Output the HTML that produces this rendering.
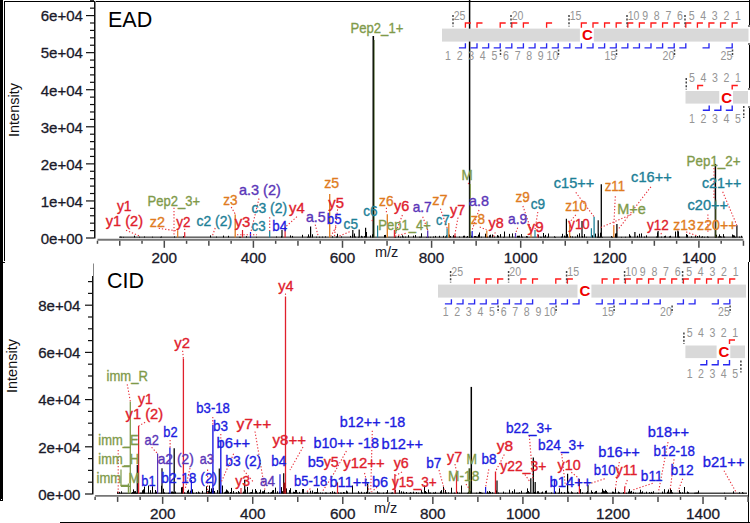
<!DOCTYPE html>
<html><head><meta charset="utf-8"><style>
html,body{margin:0;padding:0;background:#fff;}
svg{display:block;font-family:"Liberation Sans",sans-serif;}
</style></head><body>
<svg width="750" height="523" viewBox="0 0 750 523">
<rect x="0" y="0" width="3" height="501" fill="#000"/>
<rect x="1" y="499" width="1" height="1" fill="#fff"/>
<rect x="4" y="1" width="1" height="260" fill="#000"/>
<rect x="4" y="1" width="746" height="1" fill="#000"/>
<rect x="0" y="262" width="5" height="1" fill="#000"/>
<rect x="749" y="0" width="1" height="25" fill="#000"/>
<rect x="748" y="25.5" width="2" height="1" fill="#000"/>
<rect x="748" y="43.5" width="2" height="1" fill="#000"/>
<rect x="749" y="45" width="1" height="43" fill="#000"/>
<rect x="748" y="88.5" width="2" height="1" fill="#000"/>
<rect x="748" y="106.5" width="2" height="1" fill="#000"/>
<rect x="749" y="108" width="1" height="154" fill="#000"/>
<rect x="748" y="262" width="1" height="261" fill="#000"/>
<rect x="60" y="522" width="690" height="1" fill="#000"/>
<rect x="94" y="1" width="1" height="237.5" fill="#111"/>
<rect x="95" y="1" width="1" height="237.5" fill="#888"/>
<line x1="86" y1="238.0" x2="94" y2="238.0" stroke="#111" stroke-width="1.2"/>
<line x1="90" y1="230.586" x2="94" y2="230.586" stroke="#111" stroke-width="1.2"/>
<line x1="90" y1="223.172" x2="94" y2="223.172" stroke="#111" stroke-width="1.2"/>
<line x1="90" y1="215.758" x2="94" y2="215.758" stroke="#111" stroke-width="1.2"/>
<line x1="90" y1="208.344" x2="94" y2="208.344" stroke="#111" stroke-width="1.2"/>
<line x1="86" y1="200.93" x2="94" y2="200.93" stroke="#111" stroke-width="1.2"/>
<line x1="90" y1="193.516" x2="94" y2="193.516" stroke="#111" stroke-width="1.2"/>
<line x1="90" y1="186.102" x2="94" y2="186.102" stroke="#111" stroke-width="1.2"/>
<line x1="90" y1="178.688" x2="94" y2="178.688" stroke="#111" stroke-width="1.2"/>
<line x1="90" y1="171.274" x2="94" y2="171.274" stroke="#111" stroke-width="1.2"/>
<line x1="86" y1="163.86" x2="94" y2="163.86" stroke="#111" stroke-width="1.2"/>
<line x1="90" y1="156.446" x2="94" y2="156.446" stroke="#111" stroke-width="1.2"/>
<line x1="90" y1="149.03199999999998" x2="94" y2="149.03199999999998" stroke="#111" stroke-width="1.2"/>
<line x1="90" y1="141.618" x2="94" y2="141.618" stroke="#111" stroke-width="1.2"/>
<line x1="90" y1="134.204" x2="94" y2="134.204" stroke="#111" stroke-width="1.2"/>
<line x1="86" y1="126.78999999999999" x2="94" y2="126.78999999999999" stroke="#111" stroke-width="1.2"/>
<line x1="90" y1="119.37599999999999" x2="94" y2="119.37599999999999" stroke="#111" stroke-width="1.2"/>
<line x1="90" y1="111.96199999999999" x2="94" y2="111.96199999999999" stroke="#111" stroke-width="1.2"/>
<line x1="90" y1="104.548" x2="94" y2="104.548" stroke="#111" stroke-width="1.2"/>
<line x1="90" y1="97.13399999999999" x2="94" y2="97.13399999999999" stroke="#111" stroke-width="1.2"/>
<line x1="86" y1="89.72" x2="94" y2="89.72" stroke="#111" stroke-width="1.2"/>
<line x1="90" y1="82.30599999999998" x2="94" y2="82.30599999999998" stroke="#111" stroke-width="1.2"/>
<line x1="90" y1="74.892" x2="94" y2="74.892" stroke="#111" stroke-width="1.2"/>
<line x1="90" y1="67.47799999999998" x2="94" y2="67.47799999999998" stroke="#111" stroke-width="1.2"/>
<line x1="90" y1="60.06399999999999" x2="94" y2="60.06399999999999" stroke="#111" stroke-width="1.2"/>
<line x1="86" y1="52.64999999999998" x2="94" y2="52.64999999999998" stroke="#111" stroke-width="1.2"/>
<line x1="90" y1="45.23599999999999" x2="94" y2="45.23599999999999" stroke="#111" stroke-width="1.2"/>
<line x1="90" y1="37.821999999999974" x2="94" y2="37.821999999999974" stroke="#111" stroke-width="1.2"/>
<line x1="90" y1="30.407999999999987" x2="94" y2="30.407999999999987" stroke="#111" stroke-width="1.2"/>
<line x1="90" y1="22.994" x2="94" y2="22.994" stroke="#111" stroke-width="1.2"/>
<line x1="86" y1="15.579999999999984" x2="94" y2="15.579999999999984" stroke="#111" stroke-width="1.2"/>
<line x1="90" y1="8.165999999999997" x2="94" y2="8.165999999999997" stroke="#111" stroke-width="1.2"/>
<line x1="90" y1="0.7519999999999811" x2="94" y2="0.7519999999999811" stroke="#111" stroke-width="1.2"/>
<text x="83" y="243.8" fill="#1a1a2a" font-size="15.3" textLength="42.3" lengthAdjust="spacingAndGlyphs" text-anchor="end" stroke="#1a1a2a" stroke-width="0.3">0e+00</text>
<text x="83" y="206.73000000000002" fill="#1a1a2a" font-size="15.3" textLength="42.3" lengthAdjust="spacingAndGlyphs" text-anchor="end" stroke="#1a1a2a" stroke-width="0.3">1e+04</text>
<text x="83" y="169.66000000000003" fill="#1a1a2a" font-size="15.3" textLength="42.3" lengthAdjust="spacingAndGlyphs" text-anchor="end" stroke="#1a1a2a" stroke-width="0.3">2e+04</text>
<text x="83" y="132.59" fill="#1a1a2a" font-size="15.3" textLength="42.3" lengthAdjust="spacingAndGlyphs" text-anchor="end" stroke="#1a1a2a" stroke-width="0.3">3e+04</text>
<text x="83" y="95.52" fill="#1a1a2a" font-size="15.3" textLength="42.3" lengthAdjust="spacingAndGlyphs" text-anchor="end" stroke="#1a1a2a" stroke-width="0.3">4e+04</text>
<text x="83" y="58.449999999999974" fill="#1a1a2a" font-size="15.3" textLength="42.3" lengthAdjust="spacingAndGlyphs" text-anchor="end" stroke="#1a1a2a" stroke-width="0.3">5e+04</text>
<text x="83" y="21.379999999999985" fill="#1a1a2a" font-size="15.3" textLength="42.3" lengthAdjust="spacingAndGlyphs" text-anchor="end" stroke="#1a1a2a" stroke-width="0.3">6e+04</text>
<line x1="97.475" y1="239.8" x2="743.45" y2="239.8" stroke="#767676" stroke-width="1.9"/>
<line x1="97.475" y1="240.70000000000002" x2="97.475" y2="243.8" stroke="#4a4a4a" stroke-width="1.5"/>
<line x1="119.75" y1="240.70000000000002" x2="119.75" y2="245.8" stroke="#4a4a4a" stroke-width="1.5"/>
<line x1="142.025" y1="240.70000000000002" x2="142.025" y2="243.8" stroke="#4a4a4a" stroke-width="1.5"/>
<line x1="164.3" y1="240.70000000000002" x2="164.3" y2="247.8" stroke="#4a4a4a" stroke-width="1.5"/>
<line x1="186.575" y1="240.70000000000002" x2="186.575" y2="243.8" stroke="#4a4a4a" stroke-width="1.5"/>
<line x1="208.85000000000002" y1="240.70000000000002" x2="208.85000000000002" y2="245.8" stroke="#4a4a4a" stroke-width="1.5"/>
<line x1="231.125" y1="240.70000000000002" x2="231.125" y2="243.8" stroke="#4a4a4a" stroke-width="1.5"/>
<line x1="253.39999999999998" y1="240.70000000000002" x2="253.39999999999998" y2="247.8" stroke="#4a4a4a" stroke-width="1.5"/>
<line x1="275.675" y1="240.70000000000002" x2="275.675" y2="243.8" stroke="#4a4a4a" stroke-width="1.5"/>
<line x1="297.95" y1="240.70000000000002" x2="297.95" y2="245.8" stroke="#4a4a4a" stroke-width="1.5"/>
<line x1="320.225" y1="240.70000000000002" x2="320.225" y2="243.8" stroke="#4a4a4a" stroke-width="1.5"/>
<line x1="342.5" y1="240.70000000000002" x2="342.5" y2="247.8" stroke="#4a4a4a" stroke-width="1.5"/>
<line x1="364.775" y1="240.70000000000002" x2="364.775" y2="243.8" stroke="#4a4a4a" stroke-width="1.5"/>
<line x1="387.05" y1="240.70000000000002" x2="387.05" y2="245.8" stroke="#4a4a4a" stroke-width="1.5"/>
<line x1="409.325" y1="240.70000000000002" x2="409.325" y2="243.8" stroke="#4a4a4a" stroke-width="1.5"/>
<line x1="431.59999999999997" y1="240.70000000000002" x2="431.59999999999997" y2="247.8" stroke="#4a4a4a" stroke-width="1.5"/>
<line x1="453.875" y1="240.70000000000002" x2="453.875" y2="243.8" stroke="#4a4a4a" stroke-width="1.5"/>
<line x1="476.15" y1="240.70000000000002" x2="476.15" y2="245.8" stroke="#4a4a4a" stroke-width="1.5"/>
<line x1="498.425" y1="240.70000000000002" x2="498.425" y2="243.8" stroke="#4a4a4a" stroke-width="1.5"/>
<line x1="520.7" y1="240.70000000000002" x2="520.7" y2="247.8" stroke="#4a4a4a" stroke-width="1.5"/>
<line x1="542.975" y1="240.70000000000002" x2="542.975" y2="243.8" stroke="#4a4a4a" stroke-width="1.5"/>
<line x1="565.25" y1="240.70000000000002" x2="565.25" y2="245.8" stroke="#4a4a4a" stroke-width="1.5"/>
<line x1="587.5250000000001" y1="240.70000000000002" x2="587.5250000000001" y2="243.8" stroke="#4a4a4a" stroke-width="1.5"/>
<line x1="609.8000000000001" y1="240.70000000000002" x2="609.8000000000001" y2="247.8" stroke="#4a4a4a" stroke-width="1.5"/>
<line x1="632.075" y1="240.70000000000002" x2="632.075" y2="243.8" stroke="#4a4a4a" stroke-width="1.5"/>
<line x1="654.35" y1="240.70000000000002" x2="654.35" y2="245.8" stroke="#4a4a4a" stroke-width="1.5"/>
<line x1="676.625" y1="240.70000000000002" x2="676.625" y2="243.8" stroke="#4a4a4a" stroke-width="1.5"/>
<line x1="698.9000000000001" y1="240.70000000000002" x2="698.9000000000001" y2="247.8" stroke="#4a4a4a" stroke-width="1.5"/>
<line x1="721.1750000000001" y1="240.70000000000002" x2="721.1750000000001" y2="243.8" stroke="#4a4a4a" stroke-width="1.5"/>
<line x1="743.45" y1="240.70000000000002" x2="743.45" y2="245.8" stroke="#4a4a4a" stroke-width="1.5"/>
<text x="164.3" y="263" fill="#1a1a2a" font-size="15.3" text-anchor="middle" stroke="#1a1a2a" stroke-width="0.3">200</text>
<text x="253.39999999999998" y="263" fill="#1a1a2a" font-size="15.3" text-anchor="middle" stroke="#1a1a2a" stroke-width="0.3">400</text>
<text x="342.5" y="263" fill="#1a1a2a" font-size="15.3" text-anchor="middle" stroke="#1a1a2a" stroke-width="0.3">600</text>
<text x="431.59999999999997" y="263" fill="#1a1a2a" font-size="15.3" text-anchor="middle" stroke="#1a1a2a" stroke-width="0.3">800</text>
<text x="520.7" y="263" fill="#1a1a2a" font-size="15.3" text-anchor="middle" stroke="#1a1a2a" stroke-width="0.3">1000</text>
<text x="609.8000000000001" y="263" fill="#1a1a2a" font-size="15.3" text-anchor="middle" stroke="#1a1a2a" stroke-width="0.3">1200</text>
<text x="698.9000000000001" y="263" fill="#1a1a2a" font-size="15.3" text-anchor="middle" stroke="#1a1a2a" stroke-width="0.3">1400</text>
<text x="375" y="257" fill="#1a1a2a" font-size="14.5">m/z</text>
<text x="108" y="27.2" fill="#000" font-size="21.5">EAD</text>
<text x="19.3" y="137" fill="#111" font-size="14.5" transform="rotate(-90 19.3 137)">Intensity</text>
<rect x="92" y="276" width="1" height="218.5" fill="#111"/>
<rect x="93" y="263.5" width="1" height="231" fill="#888"/>
<line x1="85" y1="494.0" x2="92" y2="494.0" stroke="#111" stroke-width="1.2"/>
<line x1="88" y1="482.2" x2="92" y2="482.2" stroke="#111" stroke-width="1.2"/>
<line x1="88" y1="470.4" x2="92" y2="470.4" stroke="#111" stroke-width="1.2"/>
<line x1="88" y1="458.6" x2="92" y2="458.6" stroke="#111" stroke-width="1.2"/>
<line x1="85" y1="446.8" x2="92" y2="446.8" stroke="#111" stroke-width="1.2"/>
<line x1="88" y1="435.0" x2="92" y2="435.0" stroke="#111" stroke-width="1.2"/>
<line x1="88" y1="423.2" x2="92" y2="423.2" stroke="#111" stroke-width="1.2"/>
<line x1="88" y1="411.4" x2="92" y2="411.4" stroke="#111" stroke-width="1.2"/>
<line x1="85" y1="399.6" x2="92" y2="399.6" stroke="#111" stroke-width="1.2"/>
<line x1="88" y1="387.8" x2="92" y2="387.8" stroke="#111" stroke-width="1.2"/>
<line x1="88" y1="376.0" x2="92" y2="376.0" stroke="#111" stroke-width="1.2"/>
<line x1="88" y1="364.2" x2="92" y2="364.2" stroke="#111" stroke-width="1.2"/>
<line x1="85" y1="352.4" x2="92" y2="352.4" stroke="#111" stroke-width="1.2"/>
<line x1="88" y1="340.6" x2="92" y2="340.6" stroke="#111" stroke-width="1.2"/>
<line x1="88" y1="328.79999999999995" x2="92" y2="328.79999999999995" stroke="#111" stroke-width="1.2"/>
<line x1="88" y1="317.0" x2="92" y2="317.0" stroke="#111" stroke-width="1.2"/>
<line x1="85" y1="305.2" x2="92" y2="305.2" stroke="#111" stroke-width="1.2"/>
<line x1="88" y1="293.4" x2="92" y2="293.4" stroke="#111" stroke-width="1.2"/>
<line x1="88" y1="281.6" x2="92" y2="281.6" stroke="#111" stroke-width="1.2"/>
<text x="80.5" y="499.8" fill="#1a1a2a" font-size="15.3" textLength="42.3" lengthAdjust="spacingAndGlyphs" text-anchor="end" stroke="#1a1a2a" stroke-width="0.3">0e+00</text>
<text x="80.5" y="452.6" fill="#1a1a2a" font-size="15.3" textLength="42.3" lengthAdjust="spacingAndGlyphs" text-anchor="end" stroke="#1a1a2a" stroke-width="0.3">2e+04</text>
<text x="80.5" y="405.40000000000003" fill="#1a1a2a" font-size="15.3" textLength="42.3" lengthAdjust="spacingAndGlyphs" text-anchor="end" stroke="#1a1a2a" stroke-width="0.3">4e+04</text>
<text x="80.5" y="358.2" fill="#1a1a2a" font-size="15.3" textLength="42.3" lengthAdjust="spacingAndGlyphs" text-anchor="end" stroke="#1a1a2a" stroke-width="0.3">6e+04</text>
<text x="80.5" y="311.0" fill="#1a1a2a" font-size="15.3" textLength="42.3" lengthAdjust="spacingAndGlyphs" text-anchor="end" stroke="#1a1a2a" stroke-width="0.3">8e+04</text>
<line x1="95.115" y1="495.9" x2="748.05" y2="495.9" stroke="#767676" stroke-width="1.9"/>
<line x1="95.115" y1="496.79999999999995" x2="95.115" y2="499.9" stroke="#4a4a4a" stroke-width="1.5"/>
<line x1="117.63" y1="496.79999999999995" x2="117.63" y2="501.9" stroke="#4a4a4a" stroke-width="1.5"/>
<line x1="140.14499999999998" y1="496.79999999999995" x2="140.14499999999998" y2="499.9" stroke="#4a4a4a" stroke-width="1.5"/>
<line x1="162.66" y1="496.79999999999995" x2="162.66" y2="503.9" stroke="#4a4a4a" stroke-width="1.5"/>
<line x1="185.17499999999998" y1="496.79999999999995" x2="185.17499999999998" y2="499.9" stroke="#4a4a4a" stroke-width="1.5"/>
<line x1="207.69" y1="496.79999999999995" x2="207.69" y2="501.9" stroke="#4a4a4a" stroke-width="1.5"/>
<line x1="230.20499999999998" y1="496.79999999999995" x2="230.20499999999998" y2="499.9" stroke="#4a4a4a" stroke-width="1.5"/>
<line x1="252.72" y1="496.79999999999995" x2="252.72" y2="503.9" stroke="#4a4a4a" stroke-width="1.5"/>
<line x1="275.235" y1="496.79999999999995" x2="275.235" y2="499.9" stroke="#4a4a4a" stroke-width="1.5"/>
<line x1="297.75" y1="496.79999999999995" x2="297.75" y2="501.9" stroke="#4a4a4a" stroke-width="1.5"/>
<line x1="320.265" y1="496.79999999999995" x2="320.265" y2="499.9" stroke="#4a4a4a" stroke-width="1.5"/>
<line x1="342.78" y1="496.79999999999995" x2="342.78" y2="503.9" stroke="#4a4a4a" stroke-width="1.5"/>
<line x1="365.29499999999996" y1="496.79999999999995" x2="365.29499999999996" y2="499.9" stroke="#4a4a4a" stroke-width="1.5"/>
<line x1="387.80999999999995" y1="496.79999999999995" x2="387.80999999999995" y2="501.9" stroke="#4a4a4a" stroke-width="1.5"/>
<line x1="410.32499999999993" y1="496.79999999999995" x2="410.32499999999993" y2="499.9" stroke="#4a4a4a" stroke-width="1.5"/>
<line x1="432.84000000000003" y1="496.79999999999995" x2="432.84000000000003" y2="503.9" stroke="#4a4a4a" stroke-width="1.5"/>
<line x1="455.355" y1="496.79999999999995" x2="455.355" y2="499.9" stroke="#4a4a4a" stroke-width="1.5"/>
<line x1="477.87" y1="496.79999999999995" x2="477.87" y2="501.9" stroke="#4a4a4a" stroke-width="1.5"/>
<line x1="500.385" y1="496.79999999999995" x2="500.385" y2="499.9" stroke="#4a4a4a" stroke-width="1.5"/>
<line x1="522.9" y1="496.79999999999995" x2="522.9" y2="503.9" stroke="#4a4a4a" stroke-width="1.5"/>
<line x1="545.415" y1="496.79999999999995" x2="545.415" y2="499.9" stroke="#4a4a4a" stroke-width="1.5"/>
<line x1="567.93" y1="496.79999999999995" x2="567.93" y2="501.9" stroke="#4a4a4a" stroke-width="1.5"/>
<line x1="590.445" y1="496.79999999999995" x2="590.445" y2="499.9" stroke="#4a4a4a" stroke-width="1.5"/>
<line x1="612.96" y1="496.79999999999995" x2="612.96" y2="503.9" stroke="#4a4a4a" stroke-width="1.5"/>
<line x1="635.475" y1="496.79999999999995" x2="635.475" y2="499.9" stroke="#4a4a4a" stroke-width="1.5"/>
<line x1="657.99" y1="496.79999999999995" x2="657.99" y2="501.9" stroke="#4a4a4a" stroke-width="1.5"/>
<line x1="680.505" y1="496.79999999999995" x2="680.505" y2="499.9" stroke="#4a4a4a" stroke-width="1.5"/>
<line x1="703.02" y1="496.79999999999995" x2="703.02" y2="503.9" stroke="#4a4a4a" stroke-width="1.5"/>
<line x1="725.535" y1="496.79999999999995" x2="725.535" y2="499.9" stroke="#4a4a4a" stroke-width="1.5"/>
<line x1="748.05" y1="496.79999999999995" x2="748.05" y2="501.9" stroke="#4a4a4a" stroke-width="1.5"/>
<text x="162.66" y="518.7" fill="#1a1a2a" font-size="15.3" text-anchor="middle" stroke="#1a1a2a" stroke-width="0.3">200</text>
<text x="252.72" y="518.7" fill="#1a1a2a" font-size="15.3" text-anchor="middle" stroke="#1a1a2a" stroke-width="0.3">400</text>
<text x="342.78" y="518.7" fill="#1a1a2a" font-size="15.3" text-anchor="middle" stroke="#1a1a2a" stroke-width="0.3">600</text>
<text x="432.84000000000003" y="518.7" fill="#1a1a2a" font-size="15.3" text-anchor="middle" stroke="#1a1a2a" stroke-width="0.3">800</text>
<text x="522.9" y="518.7" fill="#1a1a2a" font-size="15.3" text-anchor="middle" stroke="#1a1a2a" stroke-width="0.3">1000</text>
<text x="612.96" y="518.7" fill="#1a1a2a" font-size="15.3" text-anchor="middle" stroke="#1a1a2a" stroke-width="0.3">1200</text>
<text x="703.02" y="518.7" fill="#1a1a2a" font-size="15.3" text-anchor="middle" stroke="#1a1a2a" stroke-width="0.3">1400</text>
<text x="374" y="513" fill="#1a1a2a" font-size="14.5">m/z</text>
<text x="107" y="288.4" fill="#000" font-size="21.5">CID</text>
<text x="16.5" y="393" fill="#111" font-size="14.5" transform="rotate(-90 16.5 393)">Intensity</text>
<rect x="119" y="236.6" width="624" height="1.1" fill="#000" opacity="0.85"/>
<path d="M120.5,237.5 V236.6 M121.5,237.5 V236.8 M123.5,237.5 V236.9 M134.5,237.5 V235.7 M139.5,237.5 V236.7 M144.5,237.5 V236.5 M152.5,237.5 V236.7 M160.5,237.5 V236.9 M161.5,237.5 V236.5 M174.5,237.5 V236.4 M183.5,237.5 V236.2 M210.5,237.5 V235.4 M216.5,237.5 V236.6 M223.5,237.5 V235.6 M228.5,237.5 V235.8 M239.5,237.5 V236.8 M240.5,237.5 V236.8 M246.5,237.5 V236.2 M250.5,237.5 V236.0 M256.5,237.5 V236.8 M276.5,237.5 V236.5 M281.5,237.5 V236.1 M290.5,237.5 V235.4 M292.5,237.5 V235.9 M302.5,237.5 V234.8 M307.5,237.5 V236.8 M308.5,237.5 V234.4 M309.5,237.5 V236.7 M312.5,237.5 V234.3 M316.5,237.5 V236.7 M319.5,237.5 V236.7 M322.5,237.5 V236.6 M325.5,237.5 V236.4 M332.5,237.5 V236.3 M336.5,237.5 V236.5 M337.5,237.5 V233.8 M341.5,237.5 V236.4 M350.5,237.5 V235.9 M352.5,237.5 V234.7 M354.5,237.5 V233.5 M355.5,237.5 V236.6 M358.5,237.5 V236.8 M361.5,237.5 V235.8 M362.5,237.5 V236.5 M364.5,237.5 V236.2 M366.5,237.5 V232.0 M370.5,237.5 V235.5 M372.5,237.5 V234.3 M384.5,237.5 V235.0 M385.5,237.5 V234.9 M394.5,237.5 V235.6 M395.5,237.5 V236.6 M398.5,237.5 V235.8 M400.5,237.5 V236.7 M402.5,237.5 V235.3 M403.5,237.5 V236.6 M405.5,237.5 V236.6 M408.5,237.5 V235.2 M413.5,237.5 V235.7 M415.5,237.5 V235.1 M419.5,237.5 V236.7 M420.5,237.5 V236.7 M421.5,237.5 V233.3 M426.5,237.5 V236.9 M427.5,237.5 V236.6 M428.5,237.5 V236.6 M430.5,237.5 V236.8 M433.5,237.5 V236.5 M435.5,237.5 V235.9 M439.5,237.5 V235.8 M443.5,237.5 V235.8 M445.5,237.5 V236.5 M446.5,237.5 V235.2 M449.5,237.5 V234.6 M450.5,237.5 V236.0 M453.5,237.5 V235.2 M454.5,237.5 V236.2 M455.5,237.5 V236.0 M459.5,237.5 V236.5 M463.5,237.5 V235.8 M464.5,237.5 V235.7 M466.5,237.5 V236.9 M467.5,237.5 V236.0 M469.5,237.5 V236.2 M471.5,237.5 V235.7 M472.5,237.5 V236.4 M474.5,237.5 V236.1 M475.5,237.5 V236.0 M476.5,237.5 V236.6 M477.5,237.5 V236.7 M478.5,237.5 V234.6 M479.5,237.5 V232.5 M481.5,237.5 V236.7 M485.5,237.5 V233.7 M486.5,237.5 V236.4 M487.5,237.5 V236.5 M489.5,237.5 V235.3 M490.5,237.5 V234.7 M492.5,237.5 V234.5 M494.5,237.5 V236.6 M497.5,237.5 V235.1 M498.5,237.5 V235.7 M500.5,237.5 V234.1 M503.5,237.5 V236.9 M504.5,237.5 V231.5 M509.5,237.5 V233.9 M512.5,237.5 V233.4 M515.5,237.5 V234.3 M517.5,237.5 V235.8 M518.5,237.5 V235.8 M519.5,237.5 V235.7 M521.5,237.5 V234.1 M522.5,237.5 V236.7 M526.5,237.5 V236.1 M527.5,237.5 V236.4 M538.5,237.5 V234.7 M540.5,237.5 V236.8 M541.5,237.5 V236.9 M543.5,237.5 V233.0 M544.5,237.5 V236.6 M545.5,237.5 V234.9 M547.5,237.5 V236.8 M548.5,237.5 V233.5 M554.5,237.5 V236.3 M555.5,237.5 V236.9 M561.5,237.5 V236.5 M562.5,237.5 V233.8 M564.5,237.5 V235.6 M565.5,237.5 V236.5 M566.5,237.5 V235.5 M567.5,237.5 V234.2 M570.5,237.5 V235.9 M572.5,237.5 V236.4 M575.5,237.5 V236.7 M577.5,237.5 V234.7 M579.5,237.5 V233.3 M582.5,237.5 V236.0 M584.5,237.5 V234.1 M586.5,237.5 V236.8 M592.5,237.5 V235.3 M595.5,237.5 V233.6 M597.5,237.5 V236.8 M598.5,237.5 V233.6 M599.5,237.5 V236.9 M600.5,237.5 V232.7 M602.5,237.5 V236.9 M611.5,237.5 V236.1 M612.5,237.5 V236.9 M615.5,237.5 V233.5 M616.5,237.5 V233.2 M621.5,237.5 V236.9 M625.5,237.5 V236.8 M629.5,237.5 V234.2 M630.5,237.5 V235.7 M637.5,237.5 V235.7 M639.5,237.5 V233.8 M641.5,237.5 V233.4 M644.5,237.5 V236.6 M646.5,237.5 V235.4 M656.5,237.5 V236.5 M657.5,237.5 V232.4 M661.5,237.5 V236.6 M664.5,237.5 V236.2 M665.5,237.5 V235.7 M669.5,237.5 V236.4 M670.5,237.5 V235.8 M675.5,237.5 V231.5 M678.5,237.5 V231.5 M679.5,237.5 V236.7 M686.5,237.5 V234.0 M687.5,237.5 V234.9 M691.5,237.5 V236.3 M695.5,237.5 V236.1 M697.5,237.5 V236.0 M699.5,237.5 V235.4 M701.5,237.5 V236.8 M702.5,237.5 V236.2 M704.5,237.5 V236.8 M707.5,237.5 V236.4 M708.5,237.5 V236.8 M715.5,237.5 V235.3 M716.5,237.5 V234.7 M718.5,237.5 V236.5 M719.5,237.5 V234.4 M720.5,237.5 V236.2 M721.5,237.5 V236.6 M723.5,237.5 V234.1 M724.5,237.5 V236.6 M732.5,237.5 V234.5 M733.5,237.5 V235.2 M734.5,237.5 V235.5 M735.5,237.5 V236.8 M739.5,237.5 V236.6 M741.5,237.5 V235.8" stroke="#000" stroke-width="1" fill="none"/>
<rect x="117" y="492.6" width="630" height="1.2" fill="#000" opacity="0.9"/>
<path d="M117.5,493.5 V491.7 M119.5,493.5 V491.9 M121.5,493.5 V491.3 M128.5,493.5 V491.4 M131.5,493.5 V492.9 M132.5,493.5 V492.1 M133.5,493.5 V489.4 M134.5,493.5 V491.3 M135.5,493.5 V491.1 M136.5,493.5 V492.8 M140.5,493.5 V492.7 M141.5,493.5 V492.7 M142.5,493.5 V490.3 M143.5,493.5 V489.4 M144.5,493.5 V486.5 M148.5,493.5 V485.5 M150.5,493.5 V490.2 M152.5,493.5 V486.2 M155.5,493.5 V490.0 M156.5,493.5 V491.7 M161.5,493.5 V485.7 M163.5,493.5 V488.7 M164.5,493.5 V492.4 M168.5,493.5 V492.8 M169.5,493.5 V492.6 M171.5,493.5 V491.6 M172.5,493.5 V491.5 M173.5,493.5 V492.2 M175.5,493.5 V491.6 M181.5,493.5 V487.3 M182.5,493.5 V486.9 M184.5,493.5 V492.3 M187.5,493.5 V490.8 M188.5,493.5 V489.7 M189.5,493.5 V492.7 M190.5,493.5 V490.7 M192.5,493.5 V489.3 M193.5,493.5 V492.8 M196.5,493.5 V492.2 M198.5,493.5 V491.6 M199.5,493.5 V492.5 M202.5,493.5 V490.9 M206.5,493.5 V486.3 M207.5,493.5 V491.3 M208.5,493.5 V490.6 M209.5,493.5 V485.5 M210.5,493.5 V491.8 M211.5,493.5 V488.4 M212.5,493.5 V490.8 M213.5,493.5 V488.1 M214.5,493.5 V491.0 M217.5,493.5 V490.1 M219.5,493.5 V491.3 M220.5,493.5 V491.6 M222.5,493.5 V485.5 M224.5,493.5 V492.4 M225.5,493.5 V491.6 M226.5,493.5 V489.5 M227.5,493.5 V490.4 M228.5,493.5 V491.5 M230.5,493.5 V492.0 M231.5,493.5 V487.9 M233.5,493.5 V491.0 M236.5,493.5 V492.2 M238.5,493.5 V491.1 M239.5,493.5 V492.3 M243.5,493.5 V491.6 M245.5,493.5 V489.5 M247.5,493.5 V486.9 M249.5,493.5 V492.8 M250.5,493.5 V492.3 M251.5,493.5 V492.0 M252.5,493.5 V489.5 M255.5,493.5 V489.0 M256.5,493.5 V490.8 M257.5,493.5 V492.7 M259.5,493.5 V492.2 M260.5,493.5 V489.6 M262.5,493.5 V491.3 M263.5,493.5 V491.3 M264.5,493.5 V489.9 M268.5,493.5 V492.1 M270.5,493.5 V492.6 M271.5,493.5 V491.9 M272.5,493.5 V490.4 M273.5,493.5 V490.0 M275.5,493.5 V487.6 M277.5,493.5 V491.3 M279.5,493.5 V491.6 M281.5,493.5 V487.1 M282.5,493.5 V491.2 M283.5,493.5 V490.7 M285.5,493.5 V490.7 M286.5,493.5 V488.4 M289.5,493.5 V490.1 M290.5,493.5 V488.2 M293.5,493.5 V491.7 M294.5,493.5 V492.0 M295.5,493.5 V489.9 M296.5,493.5 V490.0 M297.5,493.5 V492.6 M299.5,493.5 V491.9 M302.5,493.5 V489.1 M303.5,493.5 V489.0 M307.5,493.5 V492.4 M310.5,493.5 V490.7 M312.5,493.5 V490.6 M314.5,493.5 V492.2 M315.5,493.5 V492.3 M316.5,493.5 V492.1 M317.5,493.5 V488.3 M318.5,493.5 V492.7 M320.5,493.5 V492.5 M322.5,493.5 V492.7 M325.5,493.5 V492.5 M326.5,493.5 V492.6 M330.5,493.5 V492.1 M332.5,493.5 V491.2 M334.5,493.5 V491.8 M335.5,493.5 V492.8 M338.5,493.5 V492.4 M340.5,493.5 V492.6 M341.5,493.5 V492.7 M343.5,493.5 V492.0 M344.5,493.5 V492.4 M346.5,493.5 V490.6 M347.5,493.5 V491.5 M352.5,493.5 V485.5 M358.5,493.5 V491.2 M359.5,493.5 V492.7 M361.5,493.5 V491.8 M364.5,493.5 V492.4 M366.5,493.5 V491.8 M369.5,493.5 V492.4 M377.5,493.5 V491.3 M378.5,493.5 V492.6 M379.5,493.5 V492.7 M383.5,493.5 V492.6 M386.5,493.5 V492.4 M387.5,493.5 V490.1 M391.5,493.5 V492.7 M392.5,493.5 V492.4 M395.5,493.5 V489.9 M399.5,493.5 V490.1 M401.5,493.5 V491.3 M403.5,493.5 V491.6 M404.5,493.5 V492.9 M406.5,493.5 V492.0 M409.5,493.5 V492.9 M410.5,493.5 V492.2 M411.5,493.5 V492.8 M413.5,493.5 V491.7 M416.5,493.5 V492.1 M418.5,493.5 V492.7 M421.5,493.5 V490.0 M422.5,493.5 V492.4 M424.5,493.5 V485.5 M425.5,493.5 V491.0 M426.5,493.5 V492.1 M428.5,493.5 V489.5 M429.5,493.5 V492.5 M430.5,493.5 V492.5 M433.5,493.5 V492.4 M434.5,493.5 V492.8 M435.5,493.5 V491.9 M440.5,493.5 V491.4 M441.5,493.5 V490.1 M443.5,493.5 V486.8 M445.5,493.5 V490.0 M446.5,493.5 V492.5 M448.5,493.5 V492.4 M451.5,493.5 V487.7 M454.5,493.5 V492.6 M457.5,493.5 V491.8 M459.5,493.5 V492.7 M461.5,493.5 V485.5 M467.5,493.5 V492.8 M468.5,493.5 V491.8 M469.5,493.5 V492.2 M470.5,493.5 V491.4 M476.5,493.5 V492.7 M479.5,493.5 V491.8 M480.5,493.5 V492.0 M481.5,493.5 V492.5 M482.5,493.5 V492.9 M487.5,493.5 V491.3 M488.5,493.5 V492.7 M489.5,493.5 V491.0 M490.5,493.5 V491.9 M492.5,493.5 V492.3 M495.5,493.5 V492.8 M496.5,493.5 V490.4 M498.5,493.5 V492.5 M503.5,493.5 V491.6 M505.5,493.5 V492.8 M509.5,493.5 V489.7 M512.5,493.5 V491.1 M514.5,493.5 V489.4 M516.5,493.5 V492.8 M517.5,493.5 V492.8 M518.5,493.5 V492.8 M519.5,493.5 V492.3 M521.5,493.5 V490.8 M526.5,493.5 V492.3 M527.5,493.5 V488.4 M528.5,493.5 V491.1 M529.5,493.5 V492.3 M534.5,493.5 V492.0 M535.5,493.5 V491.4 M537.5,493.5 V491.3 M538.5,493.5 V491.3 M539.5,493.5 V492.9 M541.5,493.5 V492.5 M542.5,493.5 V491.6 M545.5,493.5 V490.9 M546.5,493.5 V490.6 M551.5,493.5 V492.4 M554.5,493.5 V492.7 M555.5,493.5 V491.5 M558.5,493.5 V492.7 M559.5,493.5 V488.3 M561.5,493.5 V491.9 M564.5,493.5 V492.2 M568.5,493.5 V491.6 M571.5,493.5 V491.4 M572.5,493.5 V492.3 M577.5,493.5 V492.3 M580.5,493.5 V489.1 M582.5,493.5 V492.4 M586.5,493.5 V492.5 M587.5,493.5 V491.1 M591.5,493.5 V490.4 M592.5,493.5 V492.0 M594.5,493.5 V492.4 M595.5,493.5 V491.3 M596.5,493.5 V490.9 M601.5,493.5 V492.5 M602.5,493.5 V488.8 M603.5,493.5 V490.6 M604.5,493.5 V491.2 M605.5,493.5 V489.8 M606.5,493.5 V490.9 M607.5,493.5 V492.3 M612.5,493.5 V491.6 M613.5,493.5 V491.8 M614.5,493.5 V492.7 M615.5,493.5 V488.4 M618.5,493.5 V491.6 M619.5,493.5 V492.3 M623.5,493.5 V492.1 M624.5,493.5 V492.8 M626.5,493.5 V492.8 M628.5,493.5 V491.5 M629.5,493.5 V489.1 M630.5,493.5 V491.6 M631.5,493.5 V490.9 M633.5,493.5 V491.8 M635.5,493.5 V492.7 M639.5,493.5 V492.7 M640.5,493.5 V489.7 M641.5,493.5 V492.4 M642.5,493.5 V491.3 M644.5,493.5 V492.9 M646.5,493.5 V491.7 M649.5,493.5 V492.1 M650.5,493.5 V492.9 M651.5,493.5 V491.9 M652.5,493.5 V492.8 M653.5,493.5 V491.2 M658.5,493.5 V492.8 M662.5,493.5 V491.6 M664.5,493.5 V489.2 M667.5,493.5 V491.7 M668.5,493.5 V489.5 M669.5,493.5 V492.6 M670.5,493.5 V488.0 M671.5,493.5 V490.0 M672.5,493.5 V492.3 M679.5,493.5 V490.1 M680.5,493.5 V492.2 M682.5,493.5 V492.3 M684.5,493.5 V487.0 M687.5,493.5 V491.5 M688.5,493.5 V492.2 M694.5,493.5 V492.8 M695.5,493.5 V492.7 M696.5,493.5 V492.6 M697.5,493.5 V492.5 M698.5,493.5 V490.6 M724.5,493.5 V492.7 M733.5,493.5 V491.3 M739.5,493.5 V492.3 M742.5,493.5 V492.1 M743.5,493.5 V492.8" stroke="#000" stroke-width="1" fill="none"/>
<line x1="373.3" y1="36" x2="373.3" y2="237.5" stroke="#000" stroke-width="1.6"/>
<line x1="469.6" y1="0" x2="469.6" y2="237.5" stroke="#000" stroke-width="1.5"/>
<line x1="715.4" y1="163.9" x2="715.4" y2="237.5" stroke="#000" stroke-width="1.5"/>
<line x1="601.3" y1="184.3" x2="601.3" y2="237.5" stroke="#000" stroke-width="1.3"/>
<line x1="566.4" y1="218.8" x2="566.4" y2="237.5" stroke="#000" stroke-width="1.2"/>
<line x1="582" y1="221" x2="582" y2="237.5" stroke="#000" stroke-width="1.2"/>
<line x1="598.2" y1="220.2" x2="598.2" y2="237.5" stroke="#000" stroke-width="1.2"/>
<line x1="616.9" y1="223.9" x2="616.9" y2="237.5" stroke="#000" stroke-width="1.3"/>
<line x1="736.9" y1="225.2" x2="736.9" y2="237.5" stroke="#000" stroke-width="1.2"/>
<line x1="310.6" y1="226.5" x2="310.6" y2="237.5" stroke="#000" stroke-width="1.2"/>
<line x1="352.8" y1="230" x2="352.8" y2="237.5" stroke="#000" stroke-width="1.2"/>
<line x1="359.2" y1="229.4" x2="359.2" y2="237.5" stroke="#000" stroke-width="1.2"/>
<line x1="365.6" y1="227.8" x2="365.6" y2="237.5" stroke="#000" stroke-width="1.2"/>
<line x1="282" y1="230" x2="282" y2="237.5" stroke="#000" stroke-width="1.2"/>
<line x1="470.2" y1="231.7" x2="470.2" y2="237.5" stroke="#000" stroke-width="2"/>
<line x1="634.9" y1="231.9" x2="634.9" y2="237.5" stroke="#000" stroke-width="1.2"/>
<line x1="658.1" y1="231.1" x2="658.1" y2="237.5" stroke="#000" stroke-width="1.2"/>
<line x1="677.8" y1="230.4" x2="677.8" y2="237.5" stroke="#000" stroke-width="1.2"/>
<line x1="329.7" y1="194" x2="329.7" y2="237.5" stroke="#e07b20" stroke-width="1.3"/>
<line x1="235.2" y1="214.4" x2="235.2" y2="237.5" stroke="#e07b20" stroke-width="1.3"/>
<line x1="387.3" y1="214.3" x2="387.3" y2="237.5" stroke="#e07b20" stroke-width="1.3"/>
<line x1="448.8" y1="223" x2="448.8" y2="237.5" stroke="#e07b20" stroke-width="1.3"/>
<line x1="486.8" y1="230.4" x2="486.8" y2="237.5" stroke="#e07b20" stroke-width="1.2"/>
<line x1="531" y1="229.5" x2="531" y2="237.5" stroke="#e07b20" stroke-width="1.2"/>
<line x1="569.7" y1="225" x2="569.7" y2="237.5" stroke="#e07b20" stroke-width="1.2"/>
<line x1="613.8" y1="226" x2="613.8" y2="237.5" stroke="#e07b20" stroke-width="1.3"/>
<line x1="177.7" y1="230.3" x2="177.7" y2="237.5" stroke="#e07b20" stroke-width="1.2"/>
<line x1="377.6" y1="225.4" x2="377.6" y2="237.5" stroke="#1d8097" stroke-width="1.2"/>
<line x1="447.1" y1="228.3" x2="447.1" y2="237.5" stroke="#1d8097" stroke-width="1.2"/>
<line x1="535" y1="230" x2="535" y2="237.5" stroke="#1d8097" stroke-width="1.2"/>
<line x1="594.1" y1="216.8" x2="594.1" y2="237.5" stroke="#1d8097" stroke-width="1.3"/>
<line x1="591.4" y1="228.3" x2="591.4" y2="237.5" stroke="#1d8097" stroke-width="1.2"/>
<line x1="269.7" y1="231" x2="269.7" y2="237.5" stroke="#1d8097" stroke-width="1.2"/>
<line x1="455" y1="233.8" x2="455" y2="237.5" stroke="#e0202c" stroke-width="1.2"/>
<line x1="184.7" y1="233" x2="184.7" y2="237.5" stroke="#e0202c" stroke-width="1.2"/>
<line x1="242.5" y1="230" x2="242.5" y2="237.5" stroke="#e0202c" stroke-width="1.2"/>
<line x1="285.1" y1="227.3" x2="285.1" y2="237.5" stroke="#e0202c" stroke-width="1.2"/>
<line x1="394.4" y1="230" x2="394.4" y2="237.5" stroke="#e0202c" stroke-width="1.2"/>
<line x1="537.8" y1="234" x2="537.8" y2="237.5" stroke="#e0202c" stroke-width="1.2"/>
<line x1="427.7" y1="230.4" x2="427.7" y2="237.5" stroke="#5a35b8" stroke-width="1.3"/>
<line x1="472.2" y1="231" x2="472.2" y2="237.5" stroke="#1c1ce0" stroke-width="1.2"/>
<line x1="250.5" y1="232" x2="250.5" y2="237.5" stroke="#1c1ce0" stroke-width="1.2"/>
<line x1="515.5" y1="233" x2="515.5" y2="237.5" stroke="#5a35b8" stroke-width="1.2"/>
<line x1="470.3" y1="184" x2="470.3" y2="237.5" stroke="#7f9a4a" stroke-width="1"/>
<line x1="374.1" y1="40" x2="374.1" y2="237.5" stroke="#3d5a1a" stroke-width="0.8"/>
<line x1="715.8" y1="199.7" x2="715.8" y2="237.5" stroke="#4a5a20" stroke-width="1"/>
<line x1="471.3" y1="386.9" x2="471.3" y2="493.5" stroke="#000" stroke-width="1.5"/>
<line x1="219.3" y1="468.6" x2="219.3" y2="493.5" stroke="#000" stroke-width="1.2"/>
<line x1="162" y1="468.2" x2="162" y2="493.5" stroke="#000" stroke-width="1.2"/>
<line x1="174.2" y1="448.3" x2="174.2" y2="493.5" stroke="#000" stroke-width="1.3"/>
<line x1="137.3" y1="465" x2="137.3" y2="493.5" stroke="#000" stroke-width="1.2"/>
<line x1="283.7" y1="473.3" x2="283.7" y2="493.5" stroke="#000" stroke-width="1.2"/>
<line x1="244.7" y1="479.8" x2="244.7" y2="493.5" stroke="#000" stroke-width="1.2"/>
<line x1="367.6" y1="483.2" x2="367.6" y2="493.5" stroke="#000" stroke-width="1.2"/>
<line x1="533.3" y1="457.6" x2="533.3" y2="493.5" stroke="#000" stroke-width="1.3"/>
<line x1="530.8" y1="478.2" x2="530.8" y2="493.5" stroke="#000" stroke-width="1.2"/>
<line x1="535.2" y1="481.9" x2="535.2" y2="493.5" stroke="#000" stroke-width="1.2"/>
<line x1="497" y1="480.4" x2="497" y2="493.5" stroke="#000" stroke-width="1.2"/>
<line x1="567.6" y1="473.8" x2="567.6" y2="493.5" stroke="#000" stroke-width="1.2"/>
<line x1="588" y1="485.3" x2="588" y2="493.5" stroke="#000" stroke-width="1.2"/>
<line x1="285.5" y1="296.5" x2="285.5" y2="493.5" stroke="#e0202c" stroke-width="1.3"/>
<line x1="183.4" y1="358.5" x2="183.4" y2="493.5" stroke="#e0202c" stroke-width="1.3"/>
<line x1="138.6" y1="426" x2="138.6" y2="493.5" stroke="#e0202c" stroke-width="1.3"/>
<line x1="337.5" y1="482.4" x2="337.5" y2="493.5" stroke="#e0202c" stroke-width="1.2"/>
<line x1="394.9" y1="474" x2="394.9" y2="493.5" stroke="#e0202c" stroke-width="1.3"/>
<line x1="456.5" y1="471.8" x2="456.5" y2="493.5" stroke="#e0202c" stroke-width="1.2"/>
<line x1="495.5" y1="471.5" x2="495.5" y2="493.5" stroke="#e0202c" stroke-width="1.3"/>
<line x1="579.4" y1="478.9" x2="579.4" y2="493.5" stroke="#e0202c" stroke-width="1.2"/>
<line x1="624.7" y1="487" x2="624.7" y2="493.5" stroke="#e0202c" stroke-width="1.2"/>
<line x1="241" y1="488" x2="241" y2="493.5" stroke="#e0202c" stroke-width="1.2"/>
<line x1="284.3" y1="482.6" x2="284.3" y2="493.5" stroke="#8a1010" stroke-width="2.2"/>
<line x1="130.3" y1="401.5" x2="130.3" y2="493.5" stroke="#7f9a4a" stroke-width="1.3"/>
<line x1="469.5" y1="468.3" x2="469.5" y2="493.5" stroke="#4a5a20" stroke-width="2"/>
<line x1="212.9" y1="424.9" x2="212.9" y2="493.5" stroke="#1c1ce0" stroke-width="1.4"/>
<line x1="220.8" y1="441" x2="220.8" y2="493.5" stroke="#1c1ce0" stroke-width="1.4"/>
<line x1="169.9" y1="447.5" x2="169.9" y2="493.5" stroke="#1c1ce0" stroke-width="1.3"/>
<line x1="280" y1="474.2" x2="280" y2="493.5" stroke="#1c1ce0" stroke-width="1.2"/>
<line x1="485.6" y1="487" x2="485.6" y2="493.5" stroke="#1c1ce0" stroke-width="1.2"/>
<line x1="191.4" y1="480" x2="191.4" y2="493.5" stroke="#1c1ce0" stroke-width="1.2"/>
<line x1="554.4" y1="480" x2="554.4" y2="493.5" stroke="#1c1ce0" stroke-width="1.2"/>
<line x1="157.6" y1="453.5" x2="157.6" y2="493.5" stroke="#5a35b8" stroke-width="1.2"/>
<path d="M123.8,447.3 H130.3 M123.8,465.9 H130.3 M121,486.3 H130.3 M121,469.6 V486.3 M128.4,483.5 V493.5" fill="none" stroke="#7f9a4a" stroke-width="1.2"/>
<path d="M126,230.3 L140,236.3" fill="none" stroke="#e8303a" stroke-width="1.1" stroke-dasharray="1.3,1.9" stroke-linecap="butt"/>
<path d="M158.7,228.3 L172.7,230.3 L177.7,231" fill="none" stroke="#e8303a" stroke-width="1.1" stroke-dasharray="1.3,1.9" stroke-linecap="butt"/>
<path d="M174,207.7 L174,236.3" fill="none" stroke="#e8303a" stroke-width="1.1" stroke-dasharray="1.3,1.9" stroke-linecap="butt"/>
<path d="M184.7,228.7 L184.7,233" fill="none" stroke="#e8303a" stroke-width="1.1" stroke-dasharray="1.3,1.9" stroke-linecap="butt"/>
<path d="M215.2,228 L212,237" fill="none" stroke="#e8303a" stroke-width="1.1" stroke-dasharray="1.3,1.9" stroke-linecap="butt"/>
<path d="M231.2,207 L235.2,214" fill="none" stroke="#e8303a" stroke-width="1.1" stroke-dasharray="1.3,1.9" stroke-linecap="butt"/>
<path d="M259,198.5 L251,231.6" fill="none" stroke="#e8303a" stroke-width="1.1" stroke-dasharray="1.3,1.9" stroke-linecap="butt"/>
<path d="M269.7,217.2 L269.7,231" fill="none" stroke="#e8303a" stroke-width="1.1" stroke-dasharray="1.3,1.9" stroke-linecap="butt"/>
<path d="M296.9,216.7 L285.1,227.3" fill="none" stroke="#e8303a" stroke-width="1.1" stroke-dasharray="1.3,1.9" stroke-linecap="butt"/>
<path d="M315.2,224.6 L318.4,237" fill="none" stroke="#e8303a" stroke-width="1.1" stroke-dasharray="1.3,1.9" stroke-linecap="butt"/>
<path d="M337.6,209.4 L334.4,237" fill="none" stroke="#e8303a" stroke-width="1.1" stroke-dasharray="1.3,1.9" stroke-linecap="butt"/>
<path d="M349.6,231.8 L339.2,236" fill="none" stroke="#e8303a" stroke-width="1.1" stroke-dasharray="1.3,1.9" stroke-linecap="butt"/>
<path d="M372,219.8 L373,223" fill="none" stroke="#e8303a" stroke-width="1.1" stroke-dasharray="1.3,1.9" stroke-linecap="butt"/>
<path d="M386.4,207.8 L386.4,214" fill="none" stroke="#e8303a" stroke-width="1.1" stroke-dasharray="1.3,1.9" stroke-linecap="butt"/>
<path d="M402.4,215 L394.4,236" fill="none" stroke="#e8303a" stroke-width="1.1" stroke-dasharray="1.3,1.9" stroke-linecap="butt"/>
<path d="M405.6,233.4 L395.2,236" fill="none" stroke="#e8303a" stroke-width="1.1" stroke-dasharray="1.3,1.9" stroke-linecap="butt"/>
<path d="M422.7,216.8 L427.7,230" fill="none" stroke="#e8303a" stroke-width="1.1" stroke-dasharray="1.3,1.9" stroke-linecap="butt"/>
<path d="M440.4,208.7 L447.8,229.7" fill="none" stroke="#e8303a" stroke-width="1.1" stroke-dasharray="1.3,1.9" stroke-linecap="butt"/>
<path d="M458,217.5 L455,233.8" fill="none" stroke="#e8303a" stroke-width="1.1" stroke-dasharray="1.3,1.9" stroke-linecap="butt"/>
<path d="M468.2,182.9 L469.5,186" fill="none" stroke="#e8303a" stroke-width="1.1" stroke-dasharray="1.3,1.9" stroke-linecap="butt"/>
<path d="M479,210 L472.2,229.7" fill="none" stroke="#e8303a" stroke-width="1.1" stroke-dasharray="1.3,1.9" stroke-linecap="butt"/>
<path d="M479.7,227 L486.5,229.7" fill="none" stroke="#e8303a" stroke-width="1.1" stroke-dasharray="1.3,1.9" stroke-linecap="butt"/>
<path d="M495.3,232.4 L493.3,237" fill="none" stroke="#e8303a" stroke-width="1.1" stroke-dasharray="1.3,1.9" stroke-linecap="butt"/>
<path d="M517.7,227.7 L515.7,233" fill="none" stroke="#e8303a" stroke-width="1.1" stroke-dasharray="1.3,1.9" stroke-linecap="butt"/>
<path d="M522.9,206 L531,229.7" fill="none" stroke="#e8303a" stroke-width="1.1" stroke-dasharray="1.3,1.9" stroke-linecap="butt"/>
<path d="M537.8,212 L535,229.7" fill="none" stroke="#e8303a" stroke-width="1.1" stroke-dasharray="1.3,1.9" stroke-linecap="butt"/>
<path d="M575.8,192.4 L594.1,216.8" fill="none" stroke="#e8303a" stroke-width="1.1" stroke-dasharray="1.3,1.9" stroke-linecap="butt"/>
<path d="M575.8,214.8 L569.7,222.2" fill="none" stroke="#e8303a" stroke-width="1.1" stroke-dasharray="1.3,1.9" stroke-linecap="butt"/>
<path d="M631.3,214.4 L600.7,227.5" fill="none" stroke="#e8303a" stroke-width="1.1" stroke-dasharray="1.3,1.9" stroke-linecap="butt"/>
<path d="M615.3,196.3 L613.8,226" fill="none" stroke="#e8303a" stroke-width="1.1" stroke-dasharray="1.3,1.9" stroke-linecap="butt"/>
<path d="M650.9,186.8 L617.4,230.4" fill="none" stroke="#e8303a" stroke-width="1.1" stroke-dasharray="1.3,1.9" stroke-linecap="butt"/>
<path d="M661,233 L662,236" fill="none" stroke="#e8303a" stroke-width="1.1" stroke-dasharray="1.3,1.9" stroke-linecap="butt"/>
<path d="M686.1,231.9 L697.5,236" fill="none" stroke="#e8303a" stroke-width="1.1" stroke-dasharray="1.3,1.9" stroke-linecap="butt"/>
<path d="M722.7,191.8 L736.7,225" fill="none" stroke="#e8303a" stroke-width="1.1" stroke-dasharray="1.3,1.9" stroke-linecap="butt"/>
<path d="M707.9,214.5 L707.9,232" fill="none" stroke="#e8303a" stroke-width="1.1" stroke-dasharray="1.3,1.9" stroke-linecap="butt"/>
<path d="M714,168 L714,200" fill="none" stroke="#e8303a" stroke-width="1.1" stroke-dasharray="1.3,1.9" stroke-linecap="butt"/>
<path d="M237,234.8 L257,234.8" fill="none" stroke="#e8303a" stroke-width="1.1" stroke-dasharray="1.3,1.9" stroke-linecap="butt"/>
<path d="M336,227 L331,236" fill="none" stroke="#e8303a" stroke-width="1.1" stroke-dasharray="1.3,1.9" stroke-linecap="butt"/>
<path d="M182.6,350.7 L183.4,358.5" fill="none" stroke="#e8303a" stroke-width="1.1" stroke-dasharray="1.3,1.9" stroke-linecap="butt"/>
<path d="M285.5,293.5 L285.5,296.5" fill="none" stroke="#e8303a" stroke-width="1.1" stroke-dasharray="1.3,1.9" stroke-linecap="butt"/>
<path d="M127.2,384.3 L130.3,401.2" fill="none" stroke="#e8303a" stroke-width="1.1" stroke-dasharray="1.3,1.9" stroke-linecap="butt"/>
<path d="M145.1,422.3 L138.6,426" fill="none" stroke="#e8303a" stroke-width="1.1" stroke-dasharray="1.3,1.9" stroke-linecap="butt"/>
<path d="M151.6,447.3 L157.7,453.8" fill="none" stroke="#e8303a" stroke-width="1.1" stroke-dasharray="1.3,1.9" stroke-linecap="butt"/>
<path d="M170.1,439.9 L170.1,447.8" fill="none" stroke="#e8303a" stroke-width="1.1" stroke-dasharray="1.3,1.9" stroke-linecap="butt"/>
<path d="M118.2,450 L118.2,494" fill="none" stroke="#e8303a" stroke-width="1.1" stroke-dasharray="1.3,1.9" stroke-linecap="butt"/>
<path d="M212.8,416.9 L212.8,425" fill="none" stroke="#e8303a" stroke-width="1.1" stroke-dasharray="1.3,1.9" stroke-linecap="butt"/>
<path d="M220.8,434 L220.8,441" fill="none" stroke="#e8303a" stroke-width="1.1" stroke-dasharray="1.3,1.9" stroke-linecap="butt"/>
<path d="M255,431.5 L265.1,491" fill="none" stroke="#e8303a" stroke-width="1.1" stroke-dasharray="1.3,1.9" stroke-linecap="butt"/>
<path d="M233.6,453.8 L221.5,481.6" fill="none" stroke="#e8303a" stroke-width="1.1" stroke-dasharray="1.3,1.9" stroke-linecap="butt"/>
<path d="M243.8,470.5 L253,481.6" fill="none" stroke="#e8303a" stroke-width="1.1" stroke-dasharray="1.3,1.9" stroke-linecap="butt"/>
<path d="M207.6,469.6 L207.6,494" fill="none" stroke="#e8303a" stroke-width="1.1" stroke-dasharray="1.3,1.9" stroke-linecap="butt"/>
<path d="M190,468 L185,490" fill="none" stroke="#e8303a" stroke-width="1.1" stroke-dasharray="1.3,1.9" stroke-linecap="butt"/>
<path d="M372.3,430.7 L370.7,491.8" fill="none" stroke="#e8303a" stroke-width="1.1" stroke-dasharray="1.3,1.9" stroke-linecap="butt"/>
<path d="M346.4,451 L331.5,477.7 L322,492" fill="none" stroke="#e8303a" stroke-width="1.1" stroke-dasharray="1.3,1.9" stroke-linecap="butt"/>
<path d="M364.5,473 L369.2,491" fill="none" stroke="#e8303a" stroke-width="1.1" stroke-dasharray="1.3,1.9" stroke-linecap="butt"/>
<path d="M310.4,488.7 L306.5,492" fill="none" stroke="#e8303a" stroke-width="1.1" stroke-dasharray="1.3,1.9" stroke-linecap="butt"/>
<path d="M377,487.1 L371.5,492" fill="none" stroke="#e8303a" stroke-width="1.1" stroke-dasharray="1.3,1.9" stroke-linecap="butt"/>
<path d="M402,472 L394.9,476" fill="none" stroke="#e8303a" stroke-width="1.1" stroke-dasharray="1.3,1.9" stroke-linecap="butt"/>
<path d="M303,447 L290,470" fill="none" stroke="#e8303a" stroke-width="1.1" stroke-dasharray="1.3,1.9" stroke-linecap="butt"/>
<path d="M455,464 L456.5,471.8" fill="none" stroke="#e8303a" stroke-width="1.1" stroke-dasharray="1.3,1.9" stroke-linecap="butt"/>
<path d="M439,470 L445,492" fill="none" stroke="#e8303a" stroke-width="1.1" stroke-dasharray="1.3,1.9" stroke-linecap="butt"/>
<path d="M488.8,469.3 L485.6,487" fill="none" stroke="#e8303a" stroke-width="1.1" stroke-dasharray="1.3,1.9" stroke-linecap="butt"/>
<path d="M504.3,454.6 L495.5,471.5" fill="none" stroke="#e8303a" stroke-width="1.1" stroke-dasharray="1.3,1.9" stroke-linecap="butt"/>
<path d="M529.3,435.5 L533,480.4" fill="none" stroke="#e8303a" stroke-width="1.1" stroke-dasharray="1.3,1.9" stroke-linecap="butt"/>
<path d="M524.9,474.5 L530,481.9" fill="none" stroke="#e8303a" stroke-width="1.1" stroke-dasharray="1.3,1.9" stroke-linecap="butt"/>
<path d="M561.7,453.9 L565.4,486.3" fill="none" stroke="#e8303a" stroke-width="1.1" stroke-dasharray="1.3,1.9" stroke-linecap="butt"/>
<path d="M571.3,472.3 L578.7,478.2" fill="none" stroke="#e8303a" stroke-width="1.1" stroke-dasharray="1.3,1.9" stroke-linecap="butt"/>
<path d="M604.7,478.7 L588.7,484" fill="none" stroke="#e8303a" stroke-width="1.1" stroke-dasharray="1.3,1.9" stroke-linecap="butt"/>
<path d="M619.3,462 L615.3,489.3" fill="none" stroke="#e8303a" stroke-width="1.1" stroke-dasharray="1.3,1.9" stroke-linecap="butt"/>
<path d="M627.3,480 L624.7,487.3" fill="none" stroke="#e8303a" stroke-width="1.1" stroke-dasharray="1.3,1.9" stroke-linecap="butt"/>
<path d="M652.7,483.3 L632.7,490" fill="none" stroke="#e8303a" stroke-width="1.1" stroke-dasharray="1.3,1.9" stroke-linecap="butt"/>
<path d="M668,442 L658.7,490.7" fill="none" stroke="#e8303a" stroke-width="1.1" stroke-dasharray="1.3,1.9" stroke-linecap="butt"/>
<path d="M674,459.3 L670,491.3" fill="none" stroke="#e8303a" stroke-width="1.1" stroke-dasharray="1.3,1.9" stroke-linecap="butt"/>
<path d="M682.7,478.7 L678,491.3" fill="none" stroke="#e8303a" stroke-width="1.1" stroke-dasharray="1.3,1.9" stroke-linecap="butt"/>
<path d="M724,470.7 L736.7,493.3" fill="none" stroke="#e8303a" stroke-width="1.1" stroke-dasharray="1.3,1.9" stroke-linecap="butt"/>
<path d="M466,484 L470,490" fill="none" stroke="#e8303a" stroke-width="1.1" stroke-dasharray="1.3,1.9" stroke-linecap="butt"/>
<rect x="442" y="28.6" width="137.89999999999998" height="13" fill="#d9d9d9"/>
<rect x="593.8" y="28.6" width="154.7" height="13" fill="#d9d9d9"/>
<text x="587.4000000000001" y="40" fill="#ee0000" font-size="15" text-anchor="middle" font-weight="bold">C</text>
<path d="M465.4,27.7 V23.0 H470.9" fill="none" stroke="#ff1a1a" stroke-width="1.35"/>
<path d="M477.0,27.7 V23.0 H482.5" fill="none" stroke="#ff1a1a" stroke-width="1.35"/>
<path d="M500.2,27.7 V23.0 H505.7" fill="none" stroke="#ff1a1a" stroke-width="1.35"/>
<path d="M511.8,27.7 V23.0 H517.3" fill="none" stroke="#ff1a1a" stroke-width="1.35"/>
<path d="M523.4,27.7 V23.0 H528.9" fill="none" stroke="#ff1a1a" stroke-width="1.35"/>
<path d="M546.6,27.7 V23.0 H552.1" fill="none" stroke="#ff1a1a" stroke-width="1.35"/>
<path d="M581.4,27.7 V23.0 H586.9" fill="none" stroke="#ff1a1a" stroke-width="1.35"/>
<path d="M593.0,27.7 V23.0 H598.5" fill="none" stroke="#ff1a1a" stroke-width="1.35"/>
<path d="M604.6,27.7 V23.0 H610.1" fill="none" stroke="#ff1a1a" stroke-width="1.35"/>
<path d="M616.2,27.7 V23.0 H621.7" fill="none" stroke="#ff1a1a" stroke-width="1.35"/>
<path d="M627.8,27.7 V23.0 H633.3" fill="none" stroke="#ff1a1a" stroke-width="1.35"/>
<path d="M639.4,27.7 V23.0 H644.9" fill="none" stroke="#ff1a1a" stroke-width="1.35"/>
<path d="M651.0,27.7 V23.0 H656.5" fill="none" stroke="#ff1a1a" stroke-width="1.35"/>
<path d="M662.6,27.7 V23.0 H668.1" fill="none" stroke="#ff1a1a" stroke-width="1.35"/>
<path d="M674.2,27.7 V23.0 H679.7" fill="none" stroke="#ff1a1a" stroke-width="1.35"/>
<path d="M685.8,27.7 V23.0 H691.3" fill="none" stroke="#ff1a1a" stroke-width="1.35"/>
<path d="M697.4,27.7 V23.0 H702.9" fill="none" stroke="#ff1a1a" stroke-width="1.35"/>
<path d="M709.0,27.7 V23.0 H714.5" fill="none" stroke="#ff1a1a" stroke-width="1.35"/>
<path d="M720.6,27.7 V23.0 H726.1" fill="none" stroke="#ff1a1a" stroke-width="1.35"/>
<path d="M732.2,27.7 V23.0 H737.7" fill="none" stroke="#ff1a1a" stroke-width="1.35"/>
<path d="M458.9,47.9 H465.4 V43.2" fill="none" stroke="#2828f0" stroke-width="1.35"/>
<path d="M470.5,47.9 H477.0 V43.2" fill="none" stroke="#2828f0" stroke-width="1.35"/>
<path d="M482.1,47.9 H488.6 V43.2" fill="none" stroke="#2828f0" stroke-width="1.35"/>
<path d="M493.7,47.9 H500.2 V43.2" fill="none" stroke="#2828f0" stroke-width="1.35"/>
<path d="M505.3,47.9 H511.8 V43.2" fill="none" stroke="#2828f0" stroke-width="1.35"/>
<path d="M516.9,47.9 H523.4 V43.2" fill="none" stroke="#2828f0" stroke-width="1.35"/>
<path d="M528.5,47.9 H535.0 V43.2" fill="none" stroke="#2828f0" stroke-width="1.35"/>
<path d="M540.1,47.9 H546.6 V43.2" fill="none" stroke="#2828f0" stroke-width="1.35"/>
<path d="M551.7,47.9 H558.2 V43.2" fill="none" stroke="#2828f0" stroke-width="1.35"/>
<path d="M563.3,47.9 H569.8 V43.2" fill="none" stroke="#2828f0" stroke-width="1.35"/>
<path d="M574.9,47.9 H581.4 V43.2" fill="none" stroke="#2828f0" stroke-width="1.35"/>
<path d="M586.5,47.9 H593.0 V43.2" fill="none" stroke="#2828f0" stroke-width="1.35"/>
<path d="M598.1,47.9 H604.6 V43.2" fill="none" stroke="#2828f0" stroke-width="1.35"/>
<path d="M609.7,47.9 H616.2 V43.2" fill="none" stroke="#2828f0" stroke-width="1.35"/>
<path d="M621.3,47.9 H627.8 V43.2" fill="none" stroke="#2828f0" stroke-width="1.35"/>
<path d="M632.9,47.9 H639.4 V43.2" fill="none" stroke="#2828f0" stroke-width="1.35"/>
<path d="M644.5,47.9 H651.0 V43.2" fill="none" stroke="#2828f0" stroke-width="1.35"/>
<path d="M656.1,47.9 H662.6 V43.2" fill="none" stroke="#2828f0" stroke-width="1.35"/>
<path d="M667.7,47.9 H674.2 V43.2" fill="none" stroke="#2828f0" stroke-width="1.35"/>
<path d="M679.3,47.9 H685.8 V43.2" fill="none" stroke="#2828f0" stroke-width="1.35"/>
<path d="M702.5,47.9 H709.0 V43.2" fill="none" stroke="#2828f0" stroke-width="1.35"/>
<path d="M725.7,47.9 H732.2 V43.2" fill="none" stroke="#2828f0" stroke-width="1.35"/>
<text transform="translate(459.6,19.6) scale(0.86,1)" x="0" y="0" fill="#959595" font-size="12.3" text-anchor="middle">25</text>
<text transform="translate(517.6,19.6) scale(0.86,1)" x="0" y="0" fill="#959595" font-size="12.3" text-anchor="middle">20</text>
<text transform="translate(575.6,19.6) scale(0.86,1)" x="0" y="0" fill="#959595" font-size="12.3" text-anchor="middle">15</text>
<text transform="translate(633.6,19.6) scale(0.86,1)" x="0" y="0" fill="#959595" font-size="12.3" text-anchor="middle">10</text>
<text transform="translate(645.2,19.6) scale(0.86,1)" x="0" y="0" fill="#959595" font-size="12.3" text-anchor="middle">9</text>
<text transform="translate(656.8,19.6) scale(0.86,1)" x="0" y="0" fill="#959595" font-size="12.3" text-anchor="middle">8</text>
<text transform="translate(668.4,19.6) scale(0.86,1)" x="0" y="0" fill="#959595" font-size="12.3" text-anchor="middle">7</text>
<text transform="translate(680.0,19.6) scale(0.86,1)" x="0" y="0" fill="#959595" font-size="12.3" text-anchor="middle">6</text>
<text transform="translate(691.6,19.6) scale(0.86,1)" x="0" y="0" fill="#959595" font-size="12.3" text-anchor="middle">5</text>
<text transform="translate(703.2,19.6) scale(0.86,1)" x="0" y="0" fill="#959595" font-size="12.3" text-anchor="middle">4</text>
<text transform="translate(714.8,19.6) scale(0.86,1)" x="0" y="0" fill="#959595" font-size="12.3" text-anchor="middle">3</text>
<text transform="translate(726.4,19.6) scale(0.86,1)" x="0" y="0" fill="#959595" font-size="12.3" text-anchor="middle">2</text>
<text transform="translate(738.0,19.6) scale(0.86,1)" x="0" y="0" fill="#959595" font-size="12.3" text-anchor="middle">1</text>
<text transform="translate(448.0,59.7) scale(0.86,1)" x="0" y="0" fill="#959595" font-size="12.3" text-anchor="middle">1</text>
<text transform="translate(459.6,59.7) scale(0.86,1)" x="0" y="0" fill="#959595" font-size="12.3" text-anchor="middle">2</text>
<text transform="translate(471.2,59.7) scale(0.86,1)" x="0" y="0" fill="#959595" font-size="12.3" text-anchor="middle">3</text>
<text transform="translate(482.8,59.7) scale(0.86,1)" x="0" y="0" fill="#959595" font-size="12.3" text-anchor="middle">4</text>
<text transform="translate(494.4,59.7) scale(0.86,1)" x="0" y="0" fill="#959595" font-size="12.3" text-anchor="middle">5</text>
<text transform="translate(506.0,59.7) scale(0.86,1)" x="0" y="0" fill="#959595" font-size="12.3" text-anchor="middle">6</text>
<text transform="translate(517.6,59.7) scale(0.86,1)" x="0" y="0" fill="#959595" font-size="12.3" text-anchor="middle">7</text>
<text transform="translate(529.2,59.7) scale(0.86,1)" x="0" y="0" fill="#959595" font-size="12.3" text-anchor="middle">8</text>
<text transform="translate(540.8,59.7) scale(0.86,1)" x="0" y="0" fill="#959595" font-size="12.3" text-anchor="middle">9</text>
<text transform="translate(552.4,59.7) scale(0.86,1)" x="0" y="0" fill="#959595" font-size="12.3" text-anchor="middle">10</text>
<text transform="translate(610.4,59.7) scale(0.86,1)" x="0" y="0" fill="#959595" font-size="12.3" text-anchor="middle">15</text>
<text transform="translate(668.4,59.7) scale(0.86,1)" x="0" y="0" fill="#959595" font-size="12.3" text-anchor="middle">20</text>
<text transform="translate(726.4,59.7) scale(0.86,1)" x="0" y="0" fill="#959595" font-size="12.3" text-anchor="middle">25</text>
<line x1="453.0" y1="15" x2="453.0" y2="26.5" stroke="#444" stroke-width="1.5" stroke-dasharray="2,1.6"/>
<line x1="511.0" y1="15" x2="511.0" y2="26.5" stroke="#444" stroke-width="1.5" stroke-dasharray="2,1.6"/>
<line x1="569.0" y1="15" x2="569.0" y2="26.5" stroke="#444" stroke-width="1.5" stroke-dasharray="2,1.6"/>
<line x1="627.0" y1="15" x2="627.0" y2="26.5" stroke="#444" stroke-width="1.5" stroke-dasharray="2,1.6"/>
<line x1="685.0" y1="15" x2="685.0" y2="26.5" stroke="#444" stroke-width="1.5" stroke-dasharray="2,1.6"/>
<line x1="500.5" y1="49.5" x2="500.5" y2="57" stroke="#444" stroke-width="1.5" stroke-dasharray="2,1.6"/>
<line x1="558.5" y1="49.5" x2="558.5" y2="57" stroke="#444" stroke-width="1.5" stroke-dasharray="2,1.6"/>
<line x1="616.5" y1="49.5" x2="616.5" y2="57" stroke="#444" stroke-width="1.5" stroke-dasharray="2,1.6"/>
<line x1="674.5" y1="49.5" x2="674.5" y2="57" stroke="#444" stroke-width="1.5" stroke-dasharray="2,1.6"/>
<line x1="732.5" y1="49.5" x2="732.5" y2="57" stroke="#444" stroke-width="1.5" stroke-dasharray="2,1.6"/>
<rect x="685.5" y="91" width="33.75" height="12.6" fill="#d9d9d9"/>
<rect x="733.05" y="91" width="14.95" height="12.6" fill="#d9d9d9"/>
<text x="726.7" y="102.8" fill="#ee0000" font-size="15" text-anchor="middle" font-weight="bold">C</text>
<path d="M697.8,89.5 V85.5 H703.2" fill="none" stroke="#ff1a1a" stroke-width="1.4"/>
<path d="M732.2,89.5 V85.5 H737.8" fill="none" stroke="#ff1a1a" stroke-width="1.4"/>
<path d="M702.8,110.3 H709.2 V105.5" fill="none" stroke="#2828f0" stroke-width="1.4"/>
<path d="M714.2,110.3 H720.8 V105.5" fill="none" stroke="#2828f0" stroke-width="1.4"/>
<path d="M725.8,110.3 H732.2 V105.5" fill="none" stroke="#2828f0" stroke-width="1.4"/>
<text transform="translate(692.0,82.4) scale(0.86,1)" x="0" y="0" fill="#959595" font-size="12.3" text-anchor="middle">5</text>
<text transform="translate(703.5,82.4) scale(0.86,1)" x="0" y="0" fill="#959595" font-size="12.3" text-anchor="middle">4</text>
<text transform="translate(715.0,82.4) scale(0.86,1)" x="0" y="0" fill="#959595" font-size="12.3" text-anchor="middle">3</text>
<text transform="translate(726.5,82.4) scale(0.86,1)" x="0" y="0" fill="#959595" font-size="12.3" text-anchor="middle">2</text>
<text transform="translate(738.0,82.4) scale(0.86,1)" x="0" y="0" fill="#959595" font-size="12.3" text-anchor="middle">1</text>
<text transform="translate(692.0,123.0) scale(0.86,1)" x="0" y="0" fill="#959595" font-size="12.3" text-anchor="middle">1</text>
<text transform="translate(703.5,123.0) scale(0.86,1)" x="0" y="0" fill="#959595" font-size="12.3" text-anchor="middle">2</text>
<text transform="translate(715.0,123.0) scale(0.86,1)" x="0" y="0" fill="#959595" font-size="12.3" text-anchor="middle">3</text>
<text transform="translate(726.5,123.0) scale(0.86,1)" x="0" y="0" fill="#959595" font-size="12.3" text-anchor="middle">4</text>
<text transform="translate(738.0,123.0) scale(0.86,1)" x="0" y="0" fill="#959595" font-size="12.3" text-anchor="middle">5</text>
<line x1="686.25" y1="78" x2="686.25" y2="89.5" stroke="#444" stroke-width="1.5" stroke-dasharray="2,1.6"/>
<line x1="743.75" y1="106" x2="743.75" y2="118" stroke="#444" stroke-width="1.5" stroke-dasharray="2,1.6"/>
<rect x="438" y="284.6" width="139.5" height="13" fill="#d9d9d9"/>
<rect x="591.4" y="284.6" width="154.59999999999997" height="13" fill="#d9d9d9"/>
<text x="585.0" y="296" fill="#ee0000" font-size="15" text-anchor="middle" font-weight="bold">C</text>
<path d="M474.6,283.7 V279.0 H480.1" fill="none" stroke="#ff1a1a" stroke-width="1.35"/>
<path d="M486.2,283.7 V279.0 H491.7" fill="none" stroke="#ff1a1a" stroke-width="1.35"/>
<path d="M497.8,283.7 V279.0 H503.3" fill="none" stroke="#ff1a1a" stroke-width="1.35"/>
<path d="M521.0,283.7 V279.0 H526.5" fill="none" stroke="#ff1a1a" stroke-width="1.35"/>
<path d="M532.6,283.7 V279.0 H538.1" fill="none" stroke="#ff1a1a" stroke-width="1.35"/>
<path d="M555.8,283.7 V279.0 H561.3" fill="none" stroke="#ff1a1a" stroke-width="1.35"/>
<path d="M567.4,283.7 V279.0 H572.9" fill="none" stroke="#ff1a1a" stroke-width="1.35"/>
<path d="M602.2,283.7 V279.0 H607.7" fill="none" stroke="#ff1a1a" stroke-width="1.35"/>
<path d="M613.8,283.7 V279.0 H619.3" fill="none" stroke="#ff1a1a" stroke-width="1.35"/>
<path d="M625.4,283.7 V279.0 H630.9" fill="none" stroke="#ff1a1a" stroke-width="1.35"/>
<path d="M637.0,283.7 V279.0 H642.5" fill="none" stroke="#ff1a1a" stroke-width="1.35"/>
<path d="M648.6,283.7 V279.0 H654.1" fill="none" stroke="#ff1a1a" stroke-width="1.35"/>
<path d="M660.2,283.7 V279.0 H665.7" fill="none" stroke="#ff1a1a" stroke-width="1.35"/>
<path d="M671.8,283.7 V279.0 H677.3" fill="none" stroke="#ff1a1a" stroke-width="1.35"/>
<path d="M683.4,283.7 V279.0 H688.9" fill="none" stroke="#ff1a1a" stroke-width="1.35"/>
<path d="M695.0,283.7 V279.0 H700.5" fill="none" stroke="#ff1a1a" stroke-width="1.35"/>
<path d="M706.6,283.7 V279.0 H712.1" fill="none" stroke="#ff1a1a" stroke-width="1.35"/>
<path d="M718.2,283.7 V279.0 H723.7" fill="none" stroke="#ff1a1a" stroke-width="1.35"/>
<path d="M729.8,283.7 V279.0 H735.3" fill="none" stroke="#ff1a1a" stroke-width="1.35"/>
<path d="M444.9,303.9 H451.4 V299.2" fill="none" stroke="#2828f0" stroke-width="1.35"/>
<path d="M456.5,303.9 H463.0 V299.2" fill="none" stroke="#2828f0" stroke-width="1.35"/>
<path d="M468.1,303.9 H474.6 V299.2" fill="none" stroke="#2828f0" stroke-width="1.35"/>
<path d="M479.7,303.9 H486.2 V299.2" fill="none" stroke="#2828f0" stroke-width="1.35"/>
<path d="M491.3,303.9 H497.8 V299.2" fill="none" stroke="#2828f0" stroke-width="1.35"/>
<path d="M502.9,303.9 H509.4 V299.2" fill="none" stroke="#2828f0" stroke-width="1.35"/>
<path d="M514.5,303.9 H521.0 V299.2" fill="none" stroke="#2828f0" stroke-width="1.35"/>
<path d="M526.1,303.9 H532.6 V299.2" fill="none" stroke="#2828f0" stroke-width="1.35"/>
<path d="M549.3,303.9 H555.8 V299.2" fill="none" stroke="#2828f0" stroke-width="1.35"/>
<path d="M560.9,303.9 H567.4 V299.2" fill="none" stroke="#2828f0" stroke-width="1.35"/>
<path d="M572.5,303.9 H579.0 V299.2" fill="none" stroke="#2828f0" stroke-width="1.35"/>
<path d="M595.7,303.9 H602.2 V299.2" fill="none" stroke="#2828f0" stroke-width="1.35"/>
<path d="M607.3,303.9 H613.8 V299.2" fill="none" stroke="#2828f0" stroke-width="1.35"/>
<path d="M618.9,303.9 H625.4 V299.2" fill="none" stroke="#2828f0" stroke-width="1.35"/>
<path d="M630.5,303.9 H637.0 V299.2" fill="none" stroke="#2828f0" stroke-width="1.35"/>
<path d="M642.1,303.9 H648.6 V299.2" fill="none" stroke="#2828f0" stroke-width="1.35"/>
<path d="M653.7,303.9 H660.2 V299.2" fill="none" stroke="#2828f0" stroke-width="1.35"/>
<path d="M676.9,303.9 H683.4 V299.2" fill="none" stroke="#2828f0" stroke-width="1.35"/>
<path d="M688.5,303.9 H695.0 V299.2" fill="none" stroke="#2828f0" stroke-width="1.35"/>
<path d="M711.7,303.9 H718.2 V299.2" fill="none" stroke="#2828f0" stroke-width="1.35"/>
<path d="M723.3,303.9 H729.8 V299.2" fill="none" stroke="#2828f0" stroke-width="1.35"/>
<text transform="translate(457.2,275.6) scale(0.86,1)" x="0" y="0" fill="#959595" font-size="12.3" text-anchor="middle">25</text>
<text transform="translate(515.2,275.6) scale(0.86,1)" x="0" y="0" fill="#959595" font-size="12.3" text-anchor="middle">20</text>
<text transform="translate(573.2,275.6) scale(0.86,1)" x="0" y="0" fill="#959595" font-size="12.3" text-anchor="middle">15</text>
<text transform="translate(631.2,275.6) scale(0.86,1)" x="0" y="0" fill="#959595" font-size="12.3" text-anchor="middle">10</text>
<text transform="translate(642.8,275.6) scale(0.86,1)" x="0" y="0" fill="#959595" font-size="12.3" text-anchor="middle">9</text>
<text transform="translate(654.4,275.6) scale(0.86,1)" x="0" y="0" fill="#959595" font-size="12.3" text-anchor="middle">8</text>
<text transform="translate(666.0,275.6) scale(0.86,1)" x="0" y="0" fill="#959595" font-size="12.3" text-anchor="middle">7</text>
<text transform="translate(677.6,275.6) scale(0.86,1)" x="0" y="0" fill="#959595" font-size="12.3" text-anchor="middle">6</text>
<text transform="translate(689.2,275.6) scale(0.86,1)" x="0" y="0" fill="#959595" font-size="12.3" text-anchor="middle">5</text>
<text transform="translate(700.8,275.6) scale(0.86,1)" x="0" y="0" fill="#959595" font-size="12.3" text-anchor="middle">4</text>
<text transform="translate(712.4,275.6) scale(0.86,1)" x="0" y="0" fill="#959595" font-size="12.3" text-anchor="middle">3</text>
<text transform="translate(724.0,275.6) scale(0.86,1)" x="0" y="0" fill="#959595" font-size="12.3" text-anchor="middle">2</text>
<text transform="translate(735.6,275.6) scale(0.86,1)" x="0" y="0" fill="#959595" font-size="12.3" text-anchor="middle">1</text>
<text transform="translate(445.6,315.7) scale(0.86,1)" x="0" y="0" fill="#959595" font-size="12.3" text-anchor="middle">1</text>
<text transform="translate(457.2,315.7) scale(0.86,1)" x="0" y="0" fill="#959595" font-size="12.3" text-anchor="middle">2</text>
<text transform="translate(468.8,315.7) scale(0.86,1)" x="0" y="0" fill="#959595" font-size="12.3" text-anchor="middle">3</text>
<text transform="translate(480.4,315.7) scale(0.86,1)" x="0" y="0" fill="#959595" font-size="12.3" text-anchor="middle">4</text>
<text transform="translate(492.0,315.7) scale(0.86,1)" x="0" y="0" fill="#959595" font-size="12.3" text-anchor="middle">5</text>
<text transform="translate(503.6,315.7) scale(0.86,1)" x="0" y="0" fill="#959595" font-size="12.3" text-anchor="middle">6</text>
<text transform="translate(515.2,315.7) scale(0.86,1)" x="0" y="0" fill="#959595" font-size="12.3" text-anchor="middle">7</text>
<text transform="translate(526.8,315.7) scale(0.86,1)" x="0" y="0" fill="#959595" font-size="12.3" text-anchor="middle">8</text>
<text transform="translate(538.4,315.7) scale(0.86,1)" x="0" y="0" fill="#959595" font-size="12.3" text-anchor="middle">9</text>
<text transform="translate(550.0,315.7) scale(0.86,1)" x="0" y="0" fill="#959595" font-size="12.3" text-anchor="middle">10</text>
<text transform="translate(608.0,315.7) scale(0.86,1)" x="0" y="0" fill="#959595" font-size="12.3" text-anchor="middle">15</text>
<text transform="translate(666.0,315.7) scale(0.86,1)" x="0" y="0" fill="#959595" font-size="12.3" text-anchor="middle">20</text>
<text transform="translate(724.0,315.7) scale(0.86,1)" x="0" y="0" fill="#959595" font-size="12.3" text-anchor="middle">25</text>
<line x1="450.6" y1="271" x2="450.6" y2="282.5" stroke="#444" stroke-width="1.5" stroke-dasharray="2,1.6"/>
<line x1="508.6" y1="271" x2="508.6" y2="282.5" stroke="#444" stroke-width="1.5" stroke-dasharray="2,1.6"/>
<line x1="566.6" y1="271" x2="566.6" y2="282.5" stroke="#444" stroke-width="1.5" stroke-dasharray="2,1.6"/>
<line x1="624.6" y1="271" x2="624.6" y2="282.5" stroke="#444" stroke-width="1.5" stroke-dasharray="2,1.6"/>
<line x1="682.6" y1="271" x2="682.6" y2="282.5" stroke="#444" stroke-width="1.5" stroke-dasharray="2,1.6"/>
<line x1="498.1" y1="305.5" x2="498.1" y2="313" stroke="#444" stroke-width="1.5" stroke-dasharray="2,1.6"/>
<line x1="556.1" y1="305.5" x2="556.1" y2="313" stroke="#444" stroke-width="1.5" stroke-dasharray="2,1.6"/>
<line x1="614.0999999999999" y1="305.5" x2="614.0999999999999" y2="313" stroke="#444" stroke-width="1.5" stroke-dasharray="2,1.6"/>
<line x1="672.0999999999999" y1="305.5" x2="672.0999999999999" y2="313" stroke="#444" stroke-width="1.5" stroke-dasharray="2,1.6"/>
<line x1="730.0999999999999" y1="305.5" x2="730.0999999999999" y2="313" stroke="#444" stroke-width="1.5" stroke-dasharray="2,1.6"/>
<rect x="685.4" y="345.5" width="31.200000000000045" height="12.6" fill="#d9d9d9"/>
<rect x="730.3" y="345.5" width="14.7" height="12.6" fill="#d9d9d9"/>
<text x="724.0000000000001" y="357.3" fill="#ee0000" font-size="15" text-anchor="middle" font-weight="bold">C</text>
<path d="M729.5,344.0 V340.0 H735.0" fill="none" stroke="#ff1a1a" stroke-width="1.4"/>
<path d="M700.2,364.8 H706.7 V360.0" fill="none" stroke="#2828f0" stroke-width="1.4"/>
<path d="M711.6,364.8 H718.1 V360.0" fill="none" stroke="#2828f0" stroke-width="1.4"/>
<path d="M723.0,364.8 H729.5 V360.0" fill="none" stroke="#2828f0" stroke-width="1.4"/>
<text transform="translate(689.6,336.9) scale(0.86,1)" x="0" y="0" fill="#959595" font-size="12.3" text-anchor="middle">5</text>
<text transform="translate(701.0,336.9) scale(0.86,1)" x="0" y="0" fill="#959595" font-size="12.3" text-anchor="middle">4</text>
<text transform="translate(712.4,336.9) scale(0.86,1)" x="0" y="0" fill="#959595" font-size="12.3" text-anchor="middle">3</text>
<text transform="translate(723.8,336.9) scale(0.86,1)" x="0" y="0" fill="#959595" font-size="12.3" text-anchor="middle">2</text>
<text transform="translate(735.2,336.9) scale(0.86,1)" x="0" y="0" fill="#959595" font-size="12.3" text-anchor="middle">1</text>
<text transform="translate(689.6,377.5) scale(0.86,1)" x="0" y="0" fill="#959595" font-size="12.3" text-anchor="middle">1</text>
<text transform="translate(701.0,377.5) scale(0.86,1)" x="0" y="0" fill="#959595" font-size="12.3" text-anchor="middle">2</text>
<text transform="translate(712.4,377.5) scale(0.86,1)" x="0" y="0" fill="#959595" font-size="12.3" text-anchor="middle">3</text>
<text transform="translate(723.8,377.5) scale(0.86,1)" x="0" y="0" fill="#959595" font-size="12.3" text-anchor="middle">4</text>
<text transform="translate(735.2,377.5) scale(0.86,1)" x="0" y="0" fill="#959595" font-size="12.3" text-anchor="middle">5</text>
<line x1="683.9" y1="332.5" x2="683.9" y2="344.0" stroke="#444" stroke-width="1.5" stroke-dasharray="2,1.6"/>
<line x1="740.9" y1="360.5" x2="740.9" y2="372.5" stroke="#444" stroke-width="1.5" stroke-dasharray="2,1.6"/>
<text x="350.6" y="32.7" fill="#7f9a4a" font-size="14.5" textLength="52.7" lengthAdjust="spacingAndGlyphs" stroke="#7f9a4a" stroke-width="0.35">Pep2_1+</text>
<text x="116.9" y="210.7" fill="#e0202c" font-size="14.5" textLength="14.7" lengthAdjust="spacingAndGlyphs" stroke="#e0202c" stroke-width="0.35">y1</text>
<text x="105.8" y="226.3" fill="#e0202c" font-size="14.5" textLength="37.2" lengthAdjust="spacingAndGlyphs" stroke="#e0202c" stroke-width="0.35">y1 (2)</text>
<text x="147.6" y="205.5" fill="#7f9a4a" font-size="14.5" textLength="52.5" lengthAdjust="spacingAndGlyphs" stroke="#7f9a4a" stroke-width="0.35">Pep2_3+</text>
<text x="149.7" y="226.8" fill="#e07b20" font-size="14.5" textLength="15.2" lengthAdjust="spacingAndGlyphs" stroke="#e07b20" stroke-width="0.35">z2</text>
<text x="176.3" y="226.8" fill="#e0202c" font-size="14.5" textLength="14.2" lengthAdjust="spacingAndGlyphs" stroke="#e0202c" stroke-width="0.35">y2</text>
<text x="196.6" y="226" fill="#1d8097" font-size="14.5" textLength="35.5" lengthAdjust="spacingAndGlyphs" stroke="#1d8097" stroke-width="0.35">c2 (2)</text>
<text x="223.3" y="205.3" fill="#e07b20" font-size="14.5" textLength="14.3" lengthAdjust="spacingAndGlyphs" stroke="#e07b20" stroke-width="0.35">z3</text>
<text x="234.7" y="226.8" fill="#e0202c" font-size="14.5" textLength="15.7" lengthAdjust="spacingAndGlyphs" stroke="#e0202c" stroke-width="0.35">y3</text>
<text x="238.9" y="195.3" fill="#5a35b8" font-size="14.5" textLength="41.9" lengthAdjust="spacingAndGlyphs" stroke="#5a35b8" stroke-width="0.35">a.3 (2)</text>
<text x="251.5" y="213.2" fill="#1d8097" font-size="14.5" textLength="35.7" lengthAdjust="spacingAndGlyphs" stroke="#1d8097" stroke-width="0.35">c3 (2)</text>
<text x="251.5" y="230.8" fill="#1d8097" font-size="14.5" textLength="14.1" lengthAdjust="spacingAndGlyphs" stroke="#1d8097" stroke-width="0.35">c3</text>
<text x="272.3" y="230.8" fill="#1c1ce0" font-size="14.5" textLength="14.9" lengthAdjust="spacingAndGlyphs" stroke="#1c1ce0" stroke-width="0.35">b4</text>
<text x="289.1" y="213.2" fill="#e0202c" font-size="14.5" textLength="15.7" lengthAdjust="spacingAndGlyphs" stroke="#e0202c" stroke-width="0.35">y4</text>
<text x="305.9" y="222" fill="#5a35b8" font-size="14.5" textLength="19.7" lengthAdjust="spacingAndGlyphs" stroke="#5a35b8" stroke-width="0.35">a.5</text>
<text x="324.3" y="188.4" fill="#e07b20" font-size="14.5" textLength="14.9" lengthAdjust="spacingAndGlyphs" stroke="#e07b20" stroke-width="0.35">z5</text>
<text x="328.3" y="208.4" fill="#e0202c" font-size="14.5" textLength="15.7" lengthAdjust="spacingAndGlyphs" stroke="#e0202c" stroke-width="0.35">y5</text>
<text x="326.7" y="223.6" fill="#1c1ce0" font-size="14.5" textLength="14.9" lengthAdjust="spacingAndGlyphs" stroke="#1c1ce0" stroke-width="0.35">b5</text>
<text x="343.6" y="229" fill="#1d8097" font-size="14.5" textLength="14.4" lengthAdjust="spacingAndGlyphs" stroke="#1d8097" stroke-width="0.35">c5</text>
<text x="363.3" y="216" fill="#1d8097" font-size="14.5" textLength="14.3" lengthAdjust="spacingAndGlyphs" stroke="#1d8097" stroke-width="0.35">c6</text>
<text x="379.1" y="205.7" fill="#e07b20" font-size="14.5" textLength="14.4" lengthAdjust="spacingAndGlyphs" stroke="#e07b20" stroke-width="0.35">z6</text>
<text x="394.0" y="211.3" fill="#e0202c" font-size="14.5" textLength="15.3" lengthAdjust="spacingAndGlyphs" stroke="#e0202c" stroke-width="0.35">y6</text>
<text x="378.2" y="230" fill="#7f9a4a" font-size="14.5" textLength="52.6" lengthAdjust="spacingAndGlyphs" stroke="#7f9a4a" stroke-width="0.35">Pep1_4+</text>
<text x="412.7" y="212.3" fill="#5a35b8" font-size="14.5" textLength="19.0" lengthAdjust="spacingAndGlyphs" stroke="#5a35b8" stroke-width="0.35">a.7</text>
<text x="432.3" y="204.8" fill="#e07b20" font-size="14.5" textLength="15.3" lengthAdjust="spacingAndGlyphs" stroke="#e07b20" stroke-width="0.35">z7</text>
<text x="436.0" y="225.3" fill="#1d8097" font-size="14.5" textLength="13.5" lengthAdjust="spacingAndGlyphs" stroke="#1d8097" stroke-width="0.35">c7</text>
<text x="450.0" y="215" fill="#e0202c" font-size="14.5" textLength="15.3" lengthAdjust="spacingAndGlyphs" stroke="#e0202c" stroke-width="0.35">y7</text>
<text x="461.5" y="179.5" fill="#7f9a4a" font-size="14.5" textLength="11.2" lengthAdjust="spacingAndGlyphs" stroke="#7f9a4a" stroke-width="0.35">M</text>
<text x="469.1" y="206.3" fill="#5a35b8" font-size="14.5" textLength="20.0" lengthAdjust="spacingAndGlyphs" stroke="#5a35b8" stroke-width="0.35">a.8</text>
<text x="470.7" y="224.2" fill="#e07b20" font-size="14.5" textLength="14.3" lengthAdjust="spacingAndGlyphs" stroke="#e07b20" stroke-width="0.35">z8</text>
<text x="488.6" y="228.3" fill="#e0202c" font-size="14.5" textLength="15.1" lengthAdjust="spacingAndGlyphs" stroke="#e0202c" stroke-width="0.35">y8</text>
<text x="515.4" y="201.5" fill="#e07b20" font-size="14.5" textLength="14.3" lengthAdjust="spacingAndGlyphs" stroke="#e07b20" stroke-width="0.35">z9</text>
<text x="530.8" y="208.8" fill="#1d8097" font-size="14.5" textLength="14.4" lengthAdjust="spacingAndGlyphs" stroke="#1d8097" stroke-width="0.35">c9</text>
<text x="508.1" y="224.2" fill="#5a35b8" font-size="14.5" textLength="19.2" lengthAdjust="spacingAndGlyphs" stroke="#5a35b8" stroke-width="0.35">a.9</text>
<text x="527.6" y="231.5" fill="#e0202c" font-size="14.5" textLength="16.0" lengthAdjust="spacingAndGlyphs" stroke="#e0202c" stroke-width="0.35">y9</text>
<text x="553.8" y="187.8" fill="#1d8097" font-size="14.5" textLength="40.4" lengthAdjust="spacingAndGlyphs" stroke="#1d8097" stroke-width="0.35">c15++</text>
<text x="565.3" y="210.8" fill="#e07b20" font-size="14.5" textLength="21.6" lengthAdjust="spacingAndGlyphs" stroke="#e07b20" stroke-width="0.35">z10</text>
<text x="568.3" y="229" fill="#e0202c" font-size="14.5" textLength="21.3" lengthAdjust="spacingAndGlyphs" stroke="#e0202c" stroke-width="0.35">y10</text>
<text x="604.7" y="191.4" fill="#e07b20" font-size="14.5" textLength="20.3" lengthAdjust="spacingAndGlyphs" stroke="#e07b20" stroke-width="0.35">z11</text>
<text x="617.3" y="213.5" fill="#7f9a4a" font-size="14.5" textLength="28.6" lengthAdjust="spacingAndGlyphs" stroke="#7f9a4a" stroke-width="0.35">M+e</text>
<text x="631.1" y="182.3" fill="#1d8097" font-size="14.5" textLength="40.6" lengthAdjust="spacingAndGlyphs" stroke="#1d8097" stroke-width="0.35">c16++</text>
<text x="646.9" y="230" fill="#e0202c" font-size="14.5" textLength="21.8" lengthAdjust="spacingAndGlyphs" stroke="#e0202c" stroke-width="0.35">y12</text>
<text x="686.6" y="165.6" fill="#7f9a4a" font-size="14.5" textLength="53.9" lengthAdjust="spacingAndGlyphs" stroke="#7f9a4a" stroke-width="0.35">Pep1_2+</text>
<text x="701.9" y="188" fill="#1d8097" font-size="14.5" textLength="39.5" lengthAdjust="spacingAndGlyphs" stroke="#1d8097" stroke-width="0.35">c21++</text>
<text x="687.6" y="210" fill="#1d8097" font-size="14.5" textLength="40.5" lengthAdjust="spacingAndGlyphs" stroke="#1d8097" stroke-width="0.35">c20++</text>
<text x="673.3" y="230" fill="#e07b20" font-size="14.5" textLength="22.3" lengthAdjust="spacingAndGlyphs" stroke="#e07b20" stroke-width="0.35">z13</text>
<text x="697.1" y="230" fill="#e07b20" font-size="14.5" textLength="39.5" lengthAdjust="spacingAndGlyphs" stroke="#e07b20" stroke-width="0.35">z20++</text>
<text x="278.3" y="290.7" fill="#e0202c" font-size="14.5" textLength="15.3" lengthAdjust="spacingAndGlyphs" stroke="#e0202c" stroke-width="0.35">y4</text>
<text x="174.3" y="348.2" fill="#e0202c" font-size="14.5" textLength="15.7" lengthAdjust="spacingAndGlyphs" stroke="#e0202c" stroke-width="0.35">y2</text>
<text x="106.5" y="381.2" fill="#7f9a4a" font-size="14.5" textLength="41.4" lengthAdjust="spacingAndGlyphs" stroke="#7f9a4a" stroke-width="0.35">imm_R</text>
<text x="138.0" y="403.6" fill="#e0202c" font-size="14.5" textLength="14.7" lengthAdjust="spacingAndGlyphs" stroke="#e0202c" stroke-width="0.35">y1</text>
<text x="125.6" y="418.9" fill="#e0202c" font-size="14.5" textLength="37.6" lengthAdjust="spacingAndGlyphs" stroke="#e0202c" stroke-width="0.35">y1 (2)</text>
<text x="98.3" y="445.1" fill="#7f9a4a" font-size="14.5" textLength="40.3" lengthAdjust="spacingAndGlyphs" stroke="#7f9a4a" stroke-width="0.35">imm_E</text>
<text x="98.3" y="463.8" fill="#7f9a4a" font-size="14.5" textLength="40.8" lengthAdjust="spacingAndGlyphs" stroke="#7f9a4a" stroke-width="0.35">imm_H</text>
<text x="96.6" y="483.3" fill="#7f9a4a" font-size="14.5" textLength="42.8" lengthAdjust="spacingAndGlyphs" stroke="#7f9a4a" stroke-width="0.35">imm_M</text>
<text x="144.6" y="445.1" fill="#5a35b8" font-size="14.5" textLength="14.3" lengthAdjust="spacingAndGlyphs" stroke="#5a35b8" stroke-width="0.35">a2</text>
<text x="163.3" y="437" fill="#1c1ce0" font-size="14.5" textLength="14.3" lengthAdjust="spacingAndGlyphs" stroke="#1c1ce0" stroke-width="0.35">b2</text>
<text x="157.7" y="464" fill="#5a35b8" font-size="14.5" textLength="36.1" lengthAdjust="spacingAndGlyphs" stroke="#5a35b8" stroke-width="0.35">a2 (2)</text>
<text x="141.3" y="485.7" fill="#1c1ce0" font-size="14.5" textLength="14.3" lengthAdjust="spacingAndGlyphs" stroke="#1c1ce0" stroke-width="0.35">b1</text>
<text x="161.3" y="482.6" fill="#1c1ce0" font-size="14.5" textLength="55.9" lengthAdjust="spacingAndGlyphs" stroke="#1c1ce0" stroke-width="0.35">b2-18 (2)</text>
<text x="196.3" y="412.7" fill="#1c1ce0" font-size="14.5" textLength="33.6" lengthAdjust="spacingAndGlyphs" stroke="#1c1ce0" stroke-width="0.35">b3-18</text>
<text x="212.9" y="430.9" fill="#1c1ce0" font-size="14.5" textLength="15.0" lengthAdjust="spacingAndGlyphs" stroke="#1c1ce0" stroke-width="0.35">b3</text>
<text x="236.5" y="429.1" fill="#e0202c" font-size="14.5" textLength="34.8" lengthAdjust="spacingAndGlyphs" stroke="#e0202c" stroke-width="0.35">y7++</text>
<text x="216.6" y="448.3" fill="#1c1ce0" font-size="14.5" textLength="33.6" lengthAdjust="spacingAndGlyphs" stroke="#1c1ce0" stroke-width="0.35">b6++</text>
<text x="272.5" y="444.5" fill="#e0202c" font-size="14.5" textLength="33.6" lengthAdjust="spacingAndGlyphs" stroke="#e0202c" stroke-width="0.35">y8++</text>
<text x="199.7" y="464.2" fill="#5a35b8" font-size="14.5" textLength="13.9" lengthAdjust="spacingAndGlyphs" stroke="#5a35b8" stroke-width="0.35">a3</text>
<text x="225.3" y="466.4" fill="#1c1ce0" font-size="14.5" textLength="36.1" lengthAdjust="spacingAndGlyphs" stroke="#1c1ce0" stroke-width="0.35">b3 (2)</text>
<text x="271.3" y="465.7" fill="#1c1ce0" font-size="14.5" textLength="15.0" lengthAdjust="spacingAndGlyphs" stroke="#1c1ce0" stroke-width="0.35">b4</text>
<text x="235.3" y="485.5" fill="#e0202c" font-size="14.5" textLength="14.9" lengthAdjust="spacingAndGlyphs" stroke="#e0202c" stroke-width="0.35">y3</text>
<text x="260.1" y="485.5" fill="#5a35b8" font-size="14.5" textLength="15.0" lengthAdjust="spacingAndGlyphs" stroke="#5a35b8" stroke-width="0.35">a4</text>
<text x="293.9" y="485.6" fill="#1c1ce0" font-size="14.5" textLength="33.4" lengthAdjust="spacingAndGlyphs" stroke="#1c1ce0" stroke-width="0.35">b5-18</text>
<text x="339.8" y="427" fill="#1c1ce0" font-size="14.5" textLength="65.5" lengthAdjust="spacingAndGlyphs" stroke="#1c1ce0" stroke-width="0.35">b12++ -18</text>
<text x="313.4" y="447.7" fill="#1c1ce0" font-size="14.5" textLength="65.5" lengthAdjust="spacingAndGlyphs" stroke="#1c1ce0" stroke-width="0.35">b10++ -18</text>
<text x="381.6" y="448.8" fill="#1c1ce0" font-size="14.5" textLength="41.5" lengthAdjust="spacingAndGlyphs" stroke="#1c1ce0" stroke-width="0.35">b12++</text>
<text x="307.7" y="467.2" fill="#1c1ce0" font-size="14.5" textLength="16.2" lengthAdjust="spacingAndGlyphs" stroke="#1c1ce0" stroke-width="0.35">b5</text>
<text x="323.7" y="467.2" fill="#e0202c" font-size="14.5" textLength="15.1" lengthAdjust="spacingAndGlyphs" stroke="#e0202c" stroke-width="0.35">y5</text>
<text x="343.2" y="468.3" fill="#e0202c" font-size="14.5" textLength="41.4" lengthAdjust="spacingAndGlyphs" stroke="#e0202c" stroke-width="0.35">y12++</text>
<text x="393.7" y="468.3" fill="#e0202c" font-size="14.5" textLength="15.1" lengthAdjust="spacingAndGlyphs" stroke="#e0202c" stroke-width="0.35">y6</text>
<text x="329.5" y="486.7" fill="#1c1ce0" font-size="14.5" textLength="40.3" lengthAdjust="spacingAndGlyphs" stroke="#1c1ce0" stroke-width="0.35">b11++</text>
<text x="371.9" y="486.7" fill="#1c1ce0" font-size="14.5" textLength="16.2" lengthAdjust="spacingAndGlyphs" stroke="#1c1ce0" stroke-width="0.35">b6</text>
<text x="391.9" y="486.7" fill="#e0202c" font-size="14.5" textLength="44.9" lengthAdjust="spacingAndGlyphs" stroke="#e0202c" stroke-width="0.35">y15_3+</text>
<text x="426.3" y="468.3" fill="#1c1ce0" font-size="14.5" textLength="15.1" lengthAdjust="spacingAndGlyphs" stroke="#1c1ce0" stroke-width="0.35">b7</text>
<text x="447.0" y="461.5" fill="#e0202c" font-size="14.5" textLength="15.1" lengthAdjust="spacingAndGlyphs" stroke="#e0202c" stroke-width="0.35">y7</text>
<text x="466.5" y="463.8" fill="#7f9a4a" font-size="14.5" textLength="10.5" lengthAdjust="spacingAndGlyphs" stroke="#7f9a4a" stroke-width="0.35">M</text>
<text x="448.1" y="481" fill="#7f9a4a" font-size="14.5" textLength="31.2" lengthAdjust="spacingAndGlyphs" stroke="#7f9a4a" stroke-width="0.35">M-18</text>
<text x="481.4" y="463.8" fill="#1c1ce0" font-size="14.5" textLength="15.1" lengthAdjust="spacingAndGlyphs" stroke="#1c1ce0" stroke-width="0.35">b8</text>
<text x="506.0" y="432.8" fill="#1c1ce0" font-size="14.5" textLength="46.1" lengthAdjust="spacingAndGlyphs" stroke="#1c1ce0" stroke-width="0.35">b22_3+</text>
<text x="496.8" y="451.1" fill="#e0202c" font-size="14.5" textLength="16.3" lengthAdjust="spacingAndGlyphs" stroke="#e0202c" stroke-width="0.35">y8</text>
<text x="538.1" y="450" fill="#1c1ce0" font-size="14.5" textLength="46.1" lengthAdjust="spacingAndGlyphs" stroke="#1c1ce0" stroke-width="0.35">b24_3+</text>
<text x="500.3" y="470.6" fill="#e0202c" font-size="14.5" textLength="46.0" lengthAdjust="spacingAndGlyphs" stroke="#e0202c" stroke-width="0.35">y22_3+</text>
<text x="557.6" y="469.5" fill="#e0202c" font-size="14.5" textLength="23.1" lengthAdjust="spacingAndGlyphs" stroke="#e0202c" stroke-width="0.35">y10</text>
<text x="549.6" y="486.7" fill="#1c1ce0" font-size="14.5" textLength="42.0" lengthAdjust="spacingAndGlyphs" stroke="#1c1ce0" stroke-width="0.35">b14++</text>
<text x="598.3" y="456.9" fill="#1c1ce0" font-size="14.5" textLength="41.5" lengthAdjust="spacingAndGlyphs" stroke="#1c1ce0" stroke-width="0.35">b16++</text>
<text x="593.7" y="475.2" fill="#1c1ce0" font-size="14.5" textLength="21.9" lengthAdjust="spacingAndGlyphs" stroke="#1c1ce0" stroke-width="0.35">b10</text>
<text x="615.5" y="475.2" fill="#e0202c" font-size="14.5" textLength="22.0" lengthAdjust="spacingAndGlyphs" stroke="#e0202c" stroke-width="0.35">y11</text>
<text x="640.8" y="480.5" fill="#1c1ce0" font-size="14.5" textLength="21.8" lengthAdjust="spacingAndGlyphs" stroke="#1c1ce0" stroke-width="0.35">b11</text>
<text x="647.7" y="437.4" fill="#1c1ce0" font-size="14.5" textLength="41.4" lengthAdjust="spacingAndGlyphs" stroke="#1c1ce0" stroke-width="0.35">b18++</text>
<text x="653.4" y="455.7" fill="#1c1ce0" font-size="14.5" textLength="41.4" lengthAdjust="spacingAndGlyphs" stroke="#1c1ce0" stroke-width="0.35">b12-18</text>
<text x="670.6" y="475.2" fill="#1c1ce0" font-size="14.5" textLength="23.1" lengthAdjust="spacingAndGlyphs" stroke="#1c1ce0" stroke-width="0.35">b12</text>
<text x="702.7" y="467.2" fill="#1c1ce0" font-size="14.5" textLength="41.9" lengthAdjust="spacingAndGlyphs" stroke="#1c1ce0" stroke-width="0.35">b21++</text>
</svg></body></html>
